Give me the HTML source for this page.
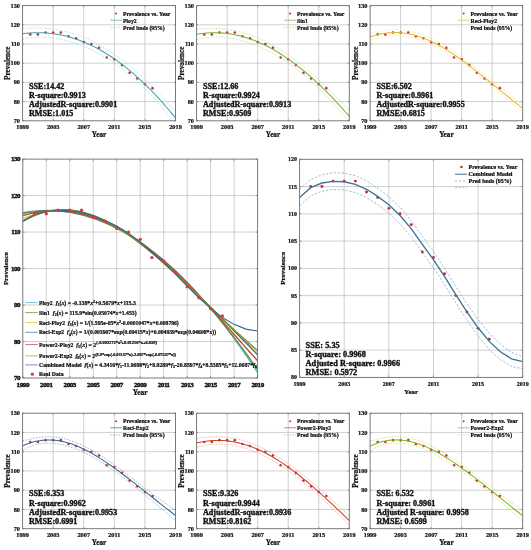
<!DOCTYPE html>
<html lang="en"><head><meta charset="utf-8"><title>Prevalence model fits</title>
<style>html,body{margin:0;padding:0;background:#fff}svg text{white-space:pre;stroke:#111;stroke-width:.24px}svg text.st{stroke-width:.36px}svg text.tk{stroke-width:.42px}</style></head>
<body>
<svg width="531" height="550" viewBox="0 0 531 550" style="display:block">
<rect width="531" height="550" fill="#fff"/>
<g fill="#111">
<line x1="53.18" y1="5.6" x2="53.18" y2="120.8" stroke="#bcbcbc" stroke-width="0.7"/>
<line x1="83.76" y1="5.6" x2="83.76" y2="120.8" stroke="#bcbcbc" stroke-width="0.7"/>
<line x1="114.34" y1="5.6" x2="114.34" y2="120.8" stroke="#bcbcbc" stroke-width="0.7"/>
<line x1="144.92" y1="5.6" x2="144.92" y2="120.8" stroke="#bcbcbc" stroke-width="0.7"/>
<line x1="22.6" y1="101.60" x2="175.5" y2="101.60" stroke="#bcbcbc" stroke-width="0.7"/>
<line x1="22.6" y1="82.40" x2="175.5" y2="82.40" stroke="#bcbcbc" stroke-width="0.7"/>
<line x1="22.6" y1="63.20" x2="175.5" y2="63.20" stroke="#bcbcbc" stroke-width="0.7"/>
<line x1="22.6" y1="44.00" x2="175.5" y2="44.00" stroke="#bcbcbc" stroke-width="0.7"/>
<line x1="22.6" y1="24.80" x2="175.5" y2="24.80" stroke="#bcbcbc" stroke-width="0.7"/>
<clipPath id="c0"><rect x="22.6" y="5.6" width="152.9" height="115.2"/></clipPath>
<g clip-path="url(#c0)">
<circle cx="30.25" cy="34.40" r="1.3" fill="#c62a38"/>
<circle cx="37.89" cy="34.40" r="1.3" fill="#c62a38"/>
<circle cx="45.53" cy="32.48" r="1.3" fill="#c62a38"/>
<circle cx="53.18" cy="32.48" r="1.3" fill="#c62a38"/>
<circle cx="60.83" cy="32.48" r="1.3" fill="#c62a38"/>
<circle cx="68.47" cy="36.32" r="1.3" fill="#c62a38"/>
<circle cx="76.12" cy="38.24" r="1.3" fill="#c62a38"/>
<circle cx="83.76" cy="42.08" r="1.3" fill="#c62a38"/>
<circle cx="91.41" cy="44.00" r="1.3" fill="#c62a38"/>
<circle cx="99.05" cy="47.84" r="1.3" fill="#c62a38"/>
<circle cx="106.70" cy="57.44" r="1.3" fill="#c62a38"/>
<circle cx="114.34" cy="59.36" r="1.3" fill="#c62a38"/>
<circle cx="121.99" cy="65.12" r="1.3" fill="#c62a38"/>
<circle cx="129.63" cy="72.80" r="1.3" fill="#c62a38"/>
<circle cx="137.28" cy="78.56" r="1.3" fill="#c62a38"/>
<circle cx="144.92" cy="84.32" r="1.3" fill="#c62a38"/>
<circle cx="152.56" cy="88.16" r="1.3" fill="#c62a38"/>
<path d="M22.60,28.37 L24.51,28.23 L26.42,28.12 L28.33,28.03 L30.25,27.97 L32.16,27.93 L34.07,27.92 L35.98,27.93 L37.89,27.97 L39.80,28.03 L41.71,28.12 L43.62,28.24 L45.53,28.38 L47.45,28.55 L49.36,28.75 L51.27,28.98 L53.18,29.24 L55.09,29.52 L57.00,29.84 L58.91,30.18 L60.83,30.56 L62.74,30.96 L64.65,31.40 L66.56,31.87 L68.47,32.38 L70.38,32.91 L72.29,33.48 L74.20,34.08 L76.12,34.71 L78.03,35.38 L79.94,36.08 L81.85,36.81 L83.76,37.58 L85.67,38.38 L87.58,39.21 L89.49,40.08 L91.41,40.98 L93.32,41.92 L95.23,42.89 L97.14,43.90 L99.05,44.94 L100.96,46.01 L102.87,47.12 L104.78,48.26 L106.70,49.43 L108.61,50.64 L110.52,51.88 L112.43,53.15 L114.34,54.46 L116.25,55.79 L118.16,57.16 L120.07,58.56 L121.99,60.00 L123.90,61.46 L125.81,62.96 L127.72,64.48 L129.63,66.04 L131.54,67.62 L133.45,69.23 L135.36,70.87 L137.28,72.54 L139.19,74.24 L141.10,75.96 L143.01,77.71 L144.92,79.49 L146.83,81.29 L148.74,83.12 L150.65,84.97 L152.56,86.85 L154.48,88.75 L156.39,90.68 L158.30,92.63 L160.21,94.61 L162.12,96.61 L164.03,98.63 L165.94,100.68 L167.85,102.75 L169.77,104.85 L171.68,106.97 L173.59,109.11 L175.50,111.28" stroke="#93d4da" stroke-width="0.7" stroke-dasharray="1.4 1.4" fill="none"/>
<path d="M22.60,39.19 L24.51,38.81 L26.42,38.48 L28.33,38.19 L30.25,37.94 L32.16,37.73 L34.07,37.56 L35.98,37.43 L37.89,37.35 L39.80,37.30 L41.71,37.30 L43.62,37.33 L45.53,37.40 L47.45,37.52 L49.36,37.67 L51.27,37.86 L53.18,38.08 L55.09,38.34 L57.00,38.64 L58.91,38.98 L60.83,39.35 L62.74,39.75 L64.65,40.20 L66.56,40.67 L68.47,41.18 L70.38,41.72 L72.29,42.30 L74.20,42.91 L76.12,43.56 L78.03,44.23 L79.94,44.94 L81.85,45.68 L83.76,46.46 L85.67,47.27 L87.58,48.11 L89.49,48.98 L91.41,49.88 L93.32,50.82 L95.23,51.79 L97.14,52.79 L99.05,53.82 L100.96,54.88 L102.87,55.98 L104.78,57.11 L106.70,58.28 L108.61,59.47 L110.52,60.70 L112.43,61.96 L114.34,63.26 L116.25,64.59 L118.16,65.96 L120.07,67.35 L121.99,68.79 L123.90,70.26 L125.81,71.76 L127.72,73.30 L129.63,74.88 L131.54,76.50 L133.45,78.15 L135.36,79.84 L137.28,81.56 L139.19,83.33 L141.10,85.14 L143.01,86.98 L144.92,88.87 L146.83,90.79 L148.74,92.76 L150.65,94.77 L152.56,96.82 L154.48,98.91 L156.39,101.04 L158.30,103.21 L160.21,105.43 L162.12,107.69 L164.03,109.99 L165.94,112.33 L167.85,114.72 L169.77,117.14 L171.68,119.61 L173.59,122.12 L175.50,124.68" stroke="#93d4da" stroke-width="0.7" stroke-dasharray="1.4 1.4" fill="none"/>
<path d="M22.60,33.78 L24.51,33.52 L26.42,33.30 L28.33,33.11 L30.25,32.95 L32.16,32.83 L34.07,32.74 L35.98,32.68 L37.89,32.66 L39.80,32.67 L41.71,32.71 L43.62,32.78 L45.53,32.89 L47.45,33.03 L49.36,33.21 L51.27,33.42 L53.18,33.66 L55.09,33.93 L57.00,34.24 L58.91,34.58 L60.83,34.95 L62.74,35.36 L64.65,35.80 L66.56,36.27 L68.47,36.78 L70.38,37.32 L72.29,37.89 L74.20,38.49 L76.12,39.13 L78.03,39.80 L79.94,40.51 L81.85,41.25 L83.76,42.02 L85.67,42.82 L87.58,43.66 L89.49,44.53 L91.41,45.43 L93.32,46.37 L95.23,47.34 L97.14,48.34 L99.05,49.38 L100.96,50.45 L102.87,51.55 L104.78,52.68 L106.70,53.85 L108.61,55.05 L110.52,56.29 L112.43,57.56 L114.34,58.86 L116.25,60.19 L118.16,61.56 L120.07,62.96 L121.99,64.39 L123.90,65.86 L125.81,67.36 L127.72,68.89 L129.63,70.46 L131.54,72.06 L133.45,73.69 L135.36,75.35 L137.28,77.05 L139.19,78.78 L141.10,80.55 L143.01,82.35 L144.92,84.18 L146.83,86.04 L148.74,87.94 L150.65,89.87 L152.56,91.83 L154.48,93.83 L156.39,95.86 L158.30,97.92 L160.21,100.02 L162.12,102.15 L164.03,104.31 L165.94,106.51 L167.85,108.73 L169.77,111.00 L171.68,113.29 L173.59,115.62 L175.50,117.98" stroke="#43a2b0" stroke-width="1.05" fill="none"/>
</g>
<rect x="22.6" y="5.6" width="152.90" height="115.20" fill="none" stroke="#6c6c6c" stroke-width="0.9"/>
<path d="M22.60,120.8v-1.6M22.60,5.6v1.6M53.18,120.8v-1.6M53.18,5.6v1.6M83.76,120.8v-1.6M83.76,5.6v1.6M114.34,120.8v-1.6M114.34,5.6v1.6M144.92,120.8v-1.6M144.92,5.6v1.6M175.50,120.8v-1.6M175.50,5.6v1.6M22.6,120.80h1.6M175.5,120.80h-1.6M22.6,101.60h1.6M175.5,101.60h-1.6M22.6,82.40h1.6M175.5,82.40h-1.6M22.6,63.20h1.6M175.5,63.20h-1.6M22.6,44.00h1.6M175.5,44.00h-1.6M22.6,24.80h1.6M175.5,24.80h-1.6M22.6,5.60h1.6M175.5,5.60h-1.6" stroke="#6c6c6c" stroke-width="0.6" fill="none"/>
<text transform="translate(22.60,129.10) scale(1,1.0)" font-size="6.3" letter-spacing="0" class="t" text-anchor="middle" font-family="Liberation Serif, Times New Roman, serif" font-weight="bold">1999</text>
<text transform="translate(53.18,129.10) scale(1,1.0)" font-size="6.3" letter-spacing="0" class="t" text-anchor="middle" font-family="Liberation Serif, Times New Roman, serif" font-weight="bold">2003</text>
<text transform="translate(83.76,129.10) scale(1,1.0)" font-size="6.3" letter-spacing="0" class="t" text-anchor="middle" font-family="Liberation Serif, Times New Roman, serif" font-weight="bold">2007</text>
<text transform="translate(114.34,129.10) scale(1,1.0)" font-size="6.3" letter-spacing="0" class="t" text-anchor="middle" font-family="Liberation Serif, Times New Roman, serif" font-weight="bold">2011</text>
<text transform="translate(144.92,129.10) scale(1,1.0)" font-size="6.3" letter-spacing="0" class="t" text-anchor="middle" font-family="Liberation Serif, Times New Roman, serif" font-weight="bold">2015</text>
<text transform="translate(175.50,129.10) scale(1,1.0)" font-size="6.3" letter-spacing="0" class="t" text-anchor="middle" font-family="Liberation Serif, Times New Roman, serif" font-weight="bold">2019</text>
<text transform="translate(20.00,122.88) scale(1,1.0)" font-size="6.3" letter-spacing="0" class="t" text-anchor="end" font-family="Liberation Serif, Times New Roman, serif" font-weight="bold">70</text>
<text transform="translate(20.00,103.68) scale(1,1.0)" font-size="6.3" letter-spacing="0" class="t" text-anchor="end" font-family="Liberation Serif, Times New Roman, serif" font-weight="bold">80</text>
<text transform="translate(20.00,84.48) scale(1,1.0)" font-size="6.3" letter-spacing="0" class="t" text-anchor="end" font-family="Liberation Serif, Times New Roman, serif" font-weight="bold">90</text>
<text transform="translate(20.00,65.28) scale(1,1.0)" font-size="6.3" letter-spacing="0" class="t" text-anchor="end" font-family="Liberation Serif, Times New Roman, serif" font-weight="bold">100</text>
<text transform="translate(20.00,46.08) scale(1,1.0)" font-size="6.3" letter-spacing="0" class="t" text-anchor="end" font-family="Liberation Serif, Times New Roman, serif" font-weight="bold">110</text>
<text transform="translate(20.00,26.88) scale(1,1.0)" font-size="6.3" letter-spacing="0" class="t" text-anchor="end" font-family="Liberation Serif, Times New Roman, serif" font-weight="bold">120</text>
<text transform="translate(20.00,7.68) scale(1,1.0)" font-size="6.3" letter-spacing="0" class="t" text-anchor="end" font-family="Liberation Serif, Times New Roman, serif" font-weight="bold">130</text>
<text x="99.05" y="137.4" font-size="7.2" text-anchor="middle" font-family="Liberation Serif, Times New Roman, serif" font-weight="bold">Year</text>
<text transform="translate(10.000000000000002,63.20) rotate(-90)" font-size="7.2" text-anchor="middle" font-family="Liberation Serif, Times New Roman, serif" font-weight="bold">Prevalence</text>
<circle cx="116.10" cy="13.6" r="1.0" fill="#c62a38"/>
<line x1="110.19999999999999" y1="20.2" x2="121.99999999999999" y2="20.2" stroke="#43a2b0" stroke-width="0.7"/>
<line x1="110.19999999999999" y1="27.4" x2="121.99999999999999" y2="27.4" stroke="#93d4da" stroke-width="0.7" stroke-dasharray="1.4 1.4"/>
<text x="123.00" y="15.50" font-size="5.75" font-family="Liberation Serif, Times New Roman, serif" font-weight="bold">Prevalence vs. Year</text>
<text x="123.00" y="22.50" font-size="5.75" font-family="Liberation Serif, Times New Roman, serif" font-weight="bold">Ploy2</text>
<text x="123.00" y="29.50" font-size="5.75" font-family="Liberation Serif, Times New Roman, serif" font-weight="bold">Pred bnds (95%)</text>
<text x="29.00" y="88.50" font-size="8.1" class="st" font-family="Liberation Serif, Times New Roman, serif" font-weight="bold">SSE:14.42</text>
<text x="29.00" y="97.80" font-size="8.1" class="st" font-family="Liberation Serif, Times New Roman, serif" font-weight="bold">R-square:0.9913</text>
<text x="29.00" y="107.10" font-size="8.1" class="st" font-family="Liberation Serif, Times New Roman, serif" font-weight="bold">AdjustedR-square:0.9901</text>
<text x="29.00" y="116.40" font-size="8.1" class="st" font-family="Liberation Serif, Times New Roman, serif" font-weight="bold">RMSE:1.015</text>
<line x1="227.14" y1="5.6" x2="227.14" y2="120.8" stroke="#bcbcbc" stroke-width="0.7"/>
<line x1="257.68" y1="5.6" x2="257.68" y2="120.8" stroke="#bcbcbc" stroke-width="0.7"/>
<line x1="288.22" y1="5.6" x2="288.22" y2="120.8" stroke="#bcbcbc" stroke-width="0.7"/>
<line x1="318.76" y1="5.6" x2="318.76" y2="120.8" stroke="#bcbcbc" stroke-width="0.7"/>
<line x1="196.6" y1="101.60" x2="349.3" y2="101.60" stroke="#bcbcbc" stroke-width="0.7"/>
<line x1="196.6" y1="82.40" x2="349.3" y2="82.40" stroke="#bcbcbc" stroke-width="0.7"/>
<line x1="196.6" y1="63.20" x2="349.3" y2="63.20" stroke="#bcbcbc" stroke-width="0.7"/>
<line x1="196.6" y1="44.00" x2="349.3" y2="44.00" stroke="#bcbcbc" stroke-width="0.7"/>
<line x1="196.6" y1="24.80" x2="349.3" y2="24.80" stroke="#bcbcbc" stroke-width="0.7"/>
<clipPath id="c1"><rect x="196.6" y="5.6" width="152.70000000000002" height="115.2"/></clipPath>
<g clip-path="url(#c1)">
<circle cx="204.23" cy="34.40" r="1.3" fill="#c62a38"/>
<circle cx="211.87" cy="34.40" r="1.3" fill="#c62a38"/>
<circle cx="219.50" cy="32.48" r="1.3" fill="#c62a38"/>
<circle cx="227.14" cy="32.48" r="1.3" fill="#c62a38"/>
<circle cx="234.78" cy="32.48" r="1.3" fill="#c62a38"/>
<circle cx="242.41" cy="36.32" r="1.3" fill="#c62a38"/>
<circle cx="250.04" cy="38.24" r="1.3" fill="#c62a38"/>
<circle cx="257.68" cy="42.08" r="1.3" fill="#c62a38"/>
<circle cx="265.31" cy="44.00" r="1.3" fill="#c62a38"/>
<circle cx="272.95" cy="47.84" r="1.3" fill="#c62a38"/>
<circle cx="280.59" cy="57.44" r="1.3" fill="#c62a38"/>
<circle cx="288.22" cy="59.36" r="1.3" fill="#c62a38"/>
<circle cx="295.86" cy="65.12" r="1.3" fill="#c62a38"/>
<circle cx="303.49" cy="72.80" r="1.3" fill="#c62a38"/>
<circle cx="311.12" cy="78.56" r="1.3" fill="#c62a38"/>
<circle cx="318.76" cy="84.32" r="1.3" fill="#c62a38"/>
<circle cx="326.39" cy="88.16" r="1.3" fill="#c62a38"/>
<path d="M196.60,29.19 L198.51,28.99 L200.42,28.82 L202.33,28.67 L204.23,28.55 L206.14,28.46 L208.05,28.40 L209.96,28.37 L211.87,28.36 L213.78,28.39 L215.69,28.44 L217.60,28.52 L219.50,28.63 L221.41,28.78 L223.32,28.95 L225.23,29.15 L227.14,29.39 L229.05,29.66 L230.96,29.96 L232.87,30.29 L234.78,30.66 L236.68,31.06 L238.59,31.49 L240.50,31.96 L242.41,32.46 L244.32,32.99 L246.23,33.57 L248.14,34.17 L250.04,34.81 L251.95,35.49 L253.86,36.20 L255.77,36.94 L257.68,37.73 L259.59,38.54 L261.50,39.39 L263.41,40.28 L265.31,41.20 L267.22,42.16 L269.13,43.15 L271.04,44.17 L272.95,45.23 L274.86,46.32 L276.77,47.45 L278.68,48.61 L280.59,49.80 L282.49,51.02 L284.40,52.28 L286.31,53.56 L288.22,54.88 L290.13,56.23 L292.04,57.61 L293.95,59.02 L295.86,60.46 L297.76,61.93 L299.67,63.42 L301.58,64.94 L303.49,66.49 L305.40,68.07 L307.31,69.67 L309.22,71.30 L311.12,72.95 L313.03,74.62 L314.94,76.32 L316.85,78.04 L318.76,79.78 L320.67,81.55 L322.58,83.33 L324.49,85.14 L326.39,86.97 L328.30,88.81 L330.21,90.68 L332.12,92.56 L334.03,94.47 L335.94,96.39 L337.85,98.33 L339.76,100.29 L341.66,102.27 L343.57,104.27 L345.48,106.28 L347.39,108.31 L349.30,110.36" stroke="#b5d37f" stroke-width="0.7" stroke-dasharray="1.4 1.4" fill="none"/>
<path d="M196.60,39.36 L198.51,38.93 L200.42,38.55 L202.33,38.21 L204.23,37.91 L206.14,37.66 L208.05,37.45 L209.96,37.28 L211.87,37.16 L213.78,37.08 L215.69,37.04 L217.60,37.04 L219.50,37.09 L221.41,37.18 L223.32,37.30 L225.23,37.47 L227.14,37.68 L229.05,37.93 L230.96,38.21 L232.87,38.54 L234.78,38.90 L236.68,39.30 L238.59,39.74 L240.50,40.21 L242.41,40.72 L244.32,41.27 L246.23,41.85 L248.14,42.46 L250.04,43.11 L251.95,43.80 L253.86,44.52 L255.77,45.27 L257.68,46.06 L259.59,46.88 L261.50,47.73 L263.41,48.62 L265.31,49.54 L267.22,50.50 L269.13,51.48 L271.04,52.50 L272.95,53.55 L274.86,54.64 L276.77,55.75 L278.68,56.90 L280.59,58.08 L282.49,59.29 L284.40,60.54 L286.31,61.82 L288.22,63.13 L290.13,64.47 L292.04,65.85 L293.95,67.26 L295.86,68.70 L297.76,70.17 L299.67,71.68 L301.58,73.21 L303.49,74.79 L305.40,76.39 L307.31,78.03 L309.22,79.70 L311.12,81.41 L313.03,83.15 L314.94,84.92 L316.85,86.73 L318.76,88.56 L320.67,90.44 L322.58,92.34 L324.49,94.28 L326.39,96.25 L328.30,98.26 L330.21,100.29 L332.12,102.36 L334.03,104.46 L335.94,106.59 L337.85,108.76 L339.76,110.95 L341.66,113.17 L343.57,115.43 L345.48,117.71 L347.39,120.02 L349.30,122.36" stroke="#b5d37f" stroke-width="0.7" stroke-dasharray="1.4 1.4" fill="none"/>
<path d="M196.60,34.28 L198.51,33.96 L200.42,33.68 L202.33,33.44 L204.23,33.23 L206.14,33.06 L208.05,32.92 L209.96,32.82 L211.87,32.76 L213.78,32.73 L215.69,32.74 L217.60,32.78 L219.50,32.86 L221.41,32.98 L223.32,33.13 L225.23,33.31 L227.14,33.53 L229.05,33.79 L230.96,34.09 L232.87,34.41 L234.78,34.78 L236.68,35.18 L238.59,35.61 L240.50,36.08 L242.41,36.59 L244.32,37.13 L246.23,37.71 L248.14,38.32 L250.04,38.96 L251.95,39.64 L253.86,40.36 L255.77,41.11 L257.68,41.89 L259.59,42.71 L261.50,43.56 L263.41,44.45 L265.31,45.37 L267.22,46.33 L269.13,47.31 L271.04,48.34 L272.95,49.39 L274.86,50.48 L276.77,51.60 L278.68,52.75 L280.59,53.94 L282.49,55.16 L284.40,56.41 L286.31,57.69 L288.22,59.01 L290.13,60.35 L292.04,61.73 L293.95,63.14 L295.86,64.58 L297.76,66.05 L299.67,67.55 L301.58,69.08 L303.49,70.64 L305.40,72.23 L307.31,73.85 L309.22,75.50 L311.12,77.18 L313.03,78.88 L314.94,80.62 L316.85,82.38 L318.76,84.17 L320.67,85.99 L322.58,87.84 L324.49,89.71 L326.39,91.61 L328.30,93.53 L330.21,95.49 L332.12,97.46 L334.03,99.47 L335.94,101.49 L337.85,103.55 L339.76,105.62 L341.66,107.72 L343.57,109.85 L345.48,112.00 L347.39,114.17 L349.30,116.36" stroke="#7fae3c" stroke-width="1.05" fill="none"/>
</g>
<rect x="196.6" y="5.6" width="152.70" height="115.20" fill="none" stroke="#6c6c6c" stroke-width="0.9"/>
<path d="M196.60,120.8v-1.6M196.60,5.6v1.6M227.14,120.8v-1.6M227.14,5.6v1.6M257.68,120.8v-1.6M257.68,5.6v1.6M288.22,120.8v-1.6M288.22,5.6v1.6M318.76,120.8v-1.6M318.76,5.6v1.6M349.30,120.8v-1.6M349.30,5.6v1.6M196.6,120.80h1.6M349.3,120.80h-1.6M196.6,101.60h1.6M349.3,101.60h-1.6M196.6,82.40h1.6M349.3,82.40h-1.6M196.6,63.20h1.6M349.3,63.20h-1.6M196.6,44.00h1.6M349.3,44.00h-1.6M196.6,24.80h1.6M349.3,24.80h-1.6M196.6,5.60h1.6M349.3,5.60h-1.6" stroke="#6c6c6c" stroke-width="0.6" fill="none"/>
<text transform="translate(196.60,129.10) scale(1,1.0)" font-size="6.3" letter-spacing="0" class="t" text-anchor="middle" font-family="Liberation Serif, Times New Roman, serif" font-weight="bold">1999</text>
<text transform="translate(227.14,129.10) scale(1,1.0)" font-size="6.3" letter-spacing="0" class="t" text-anchor="middle" font-family="Liberation Serif, Times New Roman, serif" font-weight="bold">2003</text>
<text transform="translate(257.68,129.10) scale(1,1.0)" font-size="6.3" letter-spacing="0" class="t" text-anchor="middle" font-family="Liberation Serif, Times New Roman, serif" font-weight="bold">2007</text>
<text transform="translate(288.22,129.10) scale(1,1.0)" font-size="6.3" letter-spacing="0" class="t" text-anchor="middle" font-family="Liberation Serif, Times New Roman, serif" font-weight="bold">2011</text>
<text transform="translate(318.76,129.10) scale(1,1.0)" font-size="6.3" letter-spacing="0" class="t" text-anchor="middle" font-family="Liberation Serif, Times New Roman, serif" font-weight="bold">2015</text>
<text transform="translate(349.30,129.10) scale(1,1.0)" font-size="6.3" letter-spacing="0" class="t" text-anchor="middle" font-family="Liberation Serif, Times New Roman, serif" font-weight="bold">2019</text>
<text transform="translate(194.00,122.88) scale(1,1.0)" font-size="6.3" letter-spacing="0" class="t" text-anchor="end" font-family="Liberation Serif, Times New Roman, serif" font-weight="bold">70</text>
<text transform="translate(194.00,103.68) scale(1,1.0)" font-size="6.3" letter-spacing="0" class="t" text-anchor="end" font-family="Liberation Serif, Times New Roman, serif" font-weight="bold">80</text>
<text transform="translate(194.00,84.48) scale(1,1.0)" font-size="6.3" letter-spacing="0" class="t" text-anchor="end" font-family="Liberation Serif, Times New Roman, serif" font-weight="bold">90</text>
<text transform="translate(194.00,65.28) scale(1,1.0)" font-size="6.3" letter-spacing="0" class="t" text-anchor="end" font-family="Liberation Serif, Times New Roman, serif" font-weight="bold">100</text>
<text transform="translate(194.00,46.08) scale(1,1.0)" font-size="6.3" letter-spacing="0" class="t" text-anchor="end" font-family="Liberation Serif, Times New Roman, serif" font-weight="bold">110</text>
<text transform="translate(194.00,26.88) scale(1,1.0)" font-size="6.3" letter-spacing="0" class="t" text-anchor="end" font-family="Liberation Serif, Times New Roman, serif" font-weight="bold">120</text>
<text transform="translate(194.00,7.68) scale(1,1.0)" font-size="6.3" letter-spacing="0" class="t" text-anchor="end" font-family="Liberation Serif, Times New Roman, serif" font-weight="bold">130</text>
<text x="272.95" y="137.4" font-size="7.2" text-anchor="middle" font-family="Liberation Serif, Times New Roman, serif" font-weight="bold">Year</text>
<text transform="translate(184.0,63.20) rotate(-90)" font-size="7.2" text-anchor="middle" font-family="Liberation Serif, Times New Roman, serif" font-weight="bold">Prevalence</text>
<circle cx="290.10" cy="13.6" r="1.0" fill="#c62a38"/>
<line x1="284.2" y1="20.2" x2="296.0" y2="20.2" stroke="#7fae3c" stroke-width="0.7"/>
<line x1="284.2" y1="27.4" x2="296.0" y2="27.4" stroke="#b5d37f" stroke-width="0.7" stroke-dasharray="1.4 1.4"/>
<text x="297.00" y="15.50" font-size="5.75" font-family="Liberation Serif, Times New Roman, serif" font-weight="bold">Prevalence vs. Year</text>
<text x="297.00" y="22.50" font-size="5.75" font-family="Liberation Serif, Times New Roman, serif" font-weight="bold">Sin1</text>
<text x="297.00" y="29.50" font-size="5.75" font-family="Liberation Serif, Times New Roman, serif" font-weight="bold">Pred bnds (95%)</text>
<text x="203.00" y="88.50" font-size="8.1" class="st" font-family="Liberation Serif, Times New Roman, serif" font-weight="bold">SSE:12.66</text>
<text x="203.00" y="97.80" font-size="8.1" class="st" font-family="Liberation Serif, Times New Roman, serif" font-weight="bold">R-square:0.9924</text>
<text x="203.00" y="107.10" font-size="8.1" class="st" font-family="Liberation Serif, Times New Roman, serif" font-weight="bold">AdjustedR-square:0.9913</text>
<text x="203.00" y="116.40" font-size="8.1" class="st" font-family="Liberation Serif, Times New Roman, serif" font-weight="bold">RMSE:0.9509</text>
<line x1="400.62" y1="5.6" x2="400.62" y2="120.8" stroke="#bcbcbc" stroke-width="0.7"/>
<line x1="431.14" y1="5.6" x2="431.14" y2="120.8" stroke="#bcbcbc" stroke-width="0.7"/>
<line x1="461.66" y1="5.6" x2="461.66" y2="120.8" stroke="#bcbcbc" stroke-width="0.7"/>
<line x1="492.18" y1="5.6" x2="492.18" y2="120.8" stroke="#bcbcbc" stroke-width="0.7"/>
<line x1="370.1" y1="101.60" x2="522.7" y2="101.60" stroke="#bcbcbc" stroke-width="0.7"/>
<line x1="370.1" y1="82.40" x2="522.7" y2="82.40" stroke="#bcbcbc" stroke-width="0.7"/>
<line x1="370.1" y1="63.20" x2="522.7" y2="63.20" stroke="#bcbcbc" stroke-width="0.7"/>
<line x1="370.1" y1="44.00" x2="522.7" y2="44.00" stroke="#bcbcbc" stroke-width="0.7"/>
<line x1="370.1" y1="24.80" x2="522.7" y2="24.80" stroke="#bcbcbc" stroke-width="0.7"/>
<clipPath id="c2"><rect x="370.1" y="5.6" width="152.60000000000002" height="115.2"/></clipPath>
<g clip-path="url(#c2)">
<circle cx="377.73" cy="34.40" r="1.3" fill="#c62a38"/>
<circle cx="385.36" cy="34.40" r="1.3" fill="#c62a38"/>
<circle cx="392.99" cy="32.48" r="1.3" fill="#c62a38"/>
<circle cx="400.62" cy="32.48" r="1.3" fill="#c62a38"/>
<circle cx="408.25" cy="32.48" r="1.3" fill="#c62a38"/>
<circle cx="415.88" cy="36.32" r="1.3" fill="#c62a38"/>
<circle cx="423.51" cy="38.24" r="1.3" fill="#c62a38"/>
<circle cx="431.14" cy="42.08" r="1.3" fill="#c62a38"/>
<circle cx="438.77" cy="44.00" r="1.3" fill="#c62a38"/>
<circle cx="446.40" cy="47.84" r="1.3" fill="#c62a38"/>
<circle cx="454.03" cy="57.44" r="1.3" fill="#c62a38"/>
<circle cx="461.66" cy="59.36" r="1.3" fill="#c62a38"/>
<circle cx="469.29" cy="65.12" r="1.3" fill="#c62a38"/>
<circle cx="476.92" cy="72.80" r="1.3" fill="#c62a38"/>
<circle cx="484.55" cy="78.56" r="1.3" fill="#c62a38"/>
<circle cx="492.18" cy="84.32" r="1.3" fill="#c62a38"/>
<circle cx="499.81" cy="88.16" r="1.3" fill="#c62a38"/>
<path d="M370.10,33.25 L372.01,32.70 L373.92,32.20 L375.82,31.74 L377.73,31.32 L379.64,30.95 L381.55,30.62 L383.45,30.33 L385.36,30.09 L387.27,29.89 L389.18,29.74 L391.08,29.63 L392.99,29.57 L394.90,29.56 L396.81,29.59 L398.71,29.67 L400.62,29.80 L402.53,29.98 L404.44,30.21 L406.34,30.48 L408.25,30.81 L410.16,31.18 L412.07,31.60 L413.97,32.07 L415.88,32.58 L417.79,33.15 L419.70,33.76 L421.60,34.42 L423.51,35.12 L425.42,35.87 L427.33,36.66 L429.23,37.49 L431.14,38.37 L433.05,39.28 L434.96,40.24 L436.86,41.23 L438.77,42.27 L440.68,43.33 L442.59,44.44 L444.49,45.57 L446.40,46.74 L448.31,47.94 L450.22,49.16 L452.12,50.42 L454.03,51.70 L455.94,53.00 L457.85,54.33 L459.75,55.68 L461.66,57.05 L463.57,58.44 L465.48,59.85 L467.38,61.27 L469.29,62.71 L471.20,64.16 L473.11,65.62 L475.01,67.10 L476.92,68.58 L478.83,70.08 L480.74,71.58 L482.64,73.09 L484.55,74.60 L486.46,76.12 L488.37,77.64 L490.27,79.17 L492.18,80.69 L494.09,82.22 L496.00,83.75 L497.90,85.28 L499.81,86.80 L501.72,88.33 L503.63,89.85 L505.53,91.37 L507.44,92.88 L509.35,94.39 L511.26,95.90 L513.16,97.40 L515.07,98.89 L516.98,100.38 L518.88,101.86 L520.79,103.34 L522.70,104.80" stroke="#f0dc80" stroke-width="0.7" stroke-dasharray="1.4 1.4" fill="none"/>
<path d="M370.10,40.60 L372.01,39.88 L373.92,39.23 L375.82,38.62 L377.73,38.07 L379.64,37.57 L381.55,37.13 L383.45,36.74 L385.36,36.41 L387.27,36.13 L389.18,35.91 L391.08,35.75 L392.99,35.64 L394.90,35.59 L396.81,35.59 L398.71,35.65 L400.62,35.76 L402.53,35.93 L404.44,36.15 L406.34,36.43 L408.25,36.75 L410.16,37.13 L412.07,37.55 L413.97,38.03 L415.88,38.55 L417.79,39.12 L419.70,39.74 L421.60,40.41 L423.51,41.11 L425.42,41.87 L427.33,42.66 L429.23,43.49 L431.14,44.37 L433.05,45.28 L434.96,46.24 L436.86,47.23 L438.77,48.25 L440.68,49.31 L442.59,50.41 L444.49,51.53 L446.40,52.69 L448.31,53.88 L450.22,55.09 L452.12,56.34 L454.03,57.61 L455.94,58.91 L457.85,60.23 L459.75,61.58 L461.66,62.94 L463.57,64.33 L465.48,65.74 L467.38,67.17 L469.29,68.62 L471.20,70.08 L473.11,71.56 L475.01,73.05 L476.92,74.55 L478.83,76.07 L480.74,77.60 L482.64,79.14 L484.55,80.69 L486.46,82.24 L488.37,83.80 L490.27,85.37 L492.18,86.94 L494.09,88.52 L496.00,90.10 L497.90,91.68 L499.81,93.26 L501.72,94.85 L503.63,96.43 L505.53,98.01 L507.44,99.58 L509.35,101.16 L511.26,102.73 L513.16,104.30 L515.07,105.86 L516.98,107.41 L518.88,108.96 L520.79,110.50 L522.70,112.03" stroke="#f0dc80" stroke-width="0.7" stroke-dasharray="1.4 1.4" fill="none"/>
<path d="M370.10,36.92 L372.01,36.29 L373.92,35.71 L375.82,35.18 L377.73,34.70 L379.64,34.26 L381.55,33.87 L383.45,33.53 L385.36,33.25 L387.27,33.01 L389.18,32.82 L391.08,32.69 L392.99,32.60 L394.90,32.57 L396.81,32.59 L398.71,32.66 L400.62,32.78 L402.53,32.96 L404.44,33.18 L406.34,33.45 L408.25,33.78 L410.16,34.15 L412.07,34.58 L413.97,35.05 L415.88,35.57 L417.79,36.14 L419.70,36.75 L421.60,37.41 L423.51,38.12 L425.42,38.87 L427.33,39.66 L429.23,40.49 L431.14,41.37 L433.05,42.28 L434.96,43.24 L436.86,44.23 L438.77,45.26 L440.68,46.32 L442.59,47.42 L444.49,48.55 L446.40,49.71 L448.31,50.91 L450.22,52.13 L452.12,53.38 L454.03,54.65 L455.94,55.96 L457.85,57.28 L459.75,58.63 L461.66,60.00 L463.57,61.39 L465.48,62.79 L467.38,64.22 L469.29,65.66 L471.20,67.12 L473.11,68.59 L475.01,70.07 L476.92,71.57 L478.83,73.07 L480.74,74.59 L482.64,76.11 L484.55,77.64 L486.46,79.18 L488.37,80.72 L490.27,82.27 L492.18,83.82 L494.09,85.37 L496.00,86.92 L497.90,88.48 L499.81,90.03 L501.72,91.59 L503.63,93.14 L505.53,94.69 L507.44,96.23 L509.35,97.78 L511.26,99.31 L513.16,100.85 L515.07,102.37 L516.98,103.90 L518.88,105.41 L520.79,106.92 L522.70,108.42" stroke="#e6b830" stroke-width="1.05" fill="none"/>
</g>
<rect x="370.1" y="5.6" width="152.60" height="115.20" fill="none" stroke="#6c6c6c" stroke-width="0.9"/>
<path d="M370.10,120.8v-1.6M370.10,5.6v1.6M400.62,120.8v-1.6M400.62,5.6v1.6M431.14,120.8v-1.6M431.14,5.6v1.6M461.66,120.8v-1.6M461.66,5.6v1.6M492.18,120.8v-1.6M492.18,5.6v1.6M522.70,120.8v-1.6M522.70,5.6v1.6M370.1,120.80h1.6M522.7,120.80h-1.6M370.1,101.60h1.6M522.7,101.60h-1.6M370.1,82.40h1.6M522.7,82.40h-1.6M370.1,63.20h1.6M522.7,63.20h-1.6M370.1,44.00h1.6M522.7,44.00h-1.6M370.1,24.80h1.6M522.7,24.80h-1.6M370.1,5.60h1.6M522.7,5.60h-1.6" stroke="#6c6c6c" stroke-width="0.6" fill="none"/>
<text transform="translate(370.10,129.10) scale(1,1.0)" font-size="6.3" letter-spacing="0" class="t" text-anchor="middle" font-family="Liberation Serif, Times New Roman, serif" font-weight="bold">1999</text>
<text transform="translate(400.62,129.10) scale(1,1.0)" font-size="6.3" letter-spacing="0" class="t" text-anchor="middle" font-family="Liberation Serif, Times New Roman, serif" font-weight="bold">2003</text>
<text transform="translate(431.14,129.10) scale(1,1.0)" font-size="6.3" letter-spacing="0" class="t" text-anchor="middle" font-family="Liberation Serif, Times New Roman, serif" font-weight="bold">2007</text>
<text transform="translate(461.66,129.10) scale(1,1.0)" font-size="6.3" letter-spacing="0" class="t" text-anchor="middle" font-family="Liberation Serif, Times New Roman, serif" font-weight="bold">2011</text>
<text transform="translate(492.18,129.10) scale(1,1.0)" font-size="6.3" letter-spacing="0" class="t" text-anchor="middle" font-family="Liberation Serif, Times New Roman, serif" font-weight="bold">2015</text>
<text transform="translate(522.70,129.10) scale(1,1.0)" font-size="6.3" letter-spacing="0" class="t" text-anchor="middle" font-family="Liberation Serif, Times New Roman, serif" font-weight="bold">2019</text>
<text transform="translate(367.50,122.88) scale(1,1.0)" font-size="6.3" letter-spacing="0" class="t" text-anchor="end" font-family="Liberation Serif, Times New Roman, serif" font-weight="bold">70</text>
<text transform="translate(367.50,103.68) scale(1,1.0)" font-size="6.3" letter-spacing="0" class="t" text-anchor="end" font-family="Liberation Serif, Times New Roman, serif" font-weight="bold">80</text>
<text transform="translate(367.50,84.48) scale(1,1.0)" font-size="6.3" letter-spacing="0" class="t" text-anchor="end" font-family="Liberation Serif, Times New Roman, serif" font-weight="bold">90</text>
<text transform="translate(367.50,65.28) scale(1,1.0)" font-size="6.3" letter-spacing="0" class="t" text-anchor="end" font-family="Liberation Serif, Times New Roman, serif" font-weight="bold">100</text>
<text transform="translate(367.50,46.08) scale(1,1.0)" font-size="6.3" letter-spacing="0" class="t" text-anchor="end" font-family="Liberation Serif, Times New Roman, serif" font-weight="bold">110</text>
<text transform="translate(367.50,26.88) scale(1,1.0)" font-size="6.3" letter-spacing="0" class="t" text-anchor="end" font-family="Liberation Serif, Times New Roman, serif" font-weight="bold">120</text>
<text transform="translate(367.50,7.68) scale(1,1.0)" font-size="6.3" letter-spacing="0" class="t" text-anchor="end" font-family="Liberation Serif, Times New Roman, serif" font-weight="bold">130</text>
<text x="446.40" y="137.4" font-size="7.2" text-anchor="middle" font-family="Liberation Serif, Times New Roman, serif" font-weight="bold">Year</text>
<text transform="translate(357.5,63.20) rotate(-90)" font-size="7.2" text-anchor="middle" font-family="Liberation Serif, Times New Roman, serif" font-weight="bold">Prevalence</text>
<circle cx="463.60" cy="13.6" r="1.0" fill="#c62a38"/>
<line x1="457.70000000000005" y1="20.2" x2="469.50000000000006" y2="20.2" stroke="#e6b830" stroke-width="0.7"/>
<line x1="457.70000000000005" y1="27.4" x2="469.50000000000006" y2="27.4" stroke="#f0dc80" stroke-width="0.7" stroke-dasharray="1.4 1.4"/>
<text x="470.50" y="15.50" font-size="5.75" font-family="Liberation Serif, Times New Roman, serif" font-weight="bold">Prevalence vs. Year</text>
<text x="470.50" y="22.50" font-size="5.75" font-family="Liberation Serif, Times New Roman, serif" font-weight="bold">Reci-Ploy2</text>
<text x="470.50" y="29.50" font-size="5.75" font-family="Liberation Serif, Times New Roman, serif" font-weight="bold">Pred bnds (95%)</text>
<text x="376.50" y="88.50" font-size="8.1" class="st" font-family="Liberation Serif, Times New Roman, serif" font-weight="bold">SSE:6.502</text>
<text x="376.50" y="97.80" font-size="8.1" class="st" font-family="Liberation Serif, Times New Roman, serif" font-weight="bold">R-square:0.9961</text>
<text x="376.50" y="107.10" font-size="8.1" class="st" font-family="Liberation Serif, Times New Roman, serif" font-weight="bold">AdjustedR-square:0.9955</text>
<text x="376.50" y="116.40" font-size="8.1" class="st" font-family="Liberation Serif, Times New Roman, serif" font-weight="bold">RMSE:0.6815</text>
<line x1="53.18" y1="413.2" x2="53.18" y2="528.7" stroke="#bcbcbc" stroke-width="0.7"/>
<line x1="83.76" y1="413.2" x2="83.76" y2="528.7" stroke="#bcbcbc" stroke-width="0.7"/>
<line x1="114.34" y1="413.2" x2="114.34" y2="528.7" stroke="#bcbcbc" stroke-width="0.7"/>
<line x1="144.92" y1="413.2" x2="144.92" y2="528.7" stroke="#bcbcbc" stroke-width="0.7"/>
<line x1="22.6" y1="509.45" x2="175.5" y2="509.45" stroke="#bcbcbc" stroke-width="0.7"/>
<line x1="22.6" y1="490.20" x2="175.5" y2="490.20" stroke="#bcbcbc" stroke-width="0.7"/>
<line x1="22.6" y1="470.95" x2="175.5" y2="470.95" stroke="#bcbcbc" stroke-width="0.7"/>
<line x1="22.6" y1="451.70" x2="175.5" y2="451.70" stroke="#bcbcbc" stroke-width="0.7"/>
<line x1="22.6" y1="432.45" x2="175.5" y2="432.45" stroke="#bcbcbc" stroke-width="0.7"/>
<clipPath id="c3"><rect x="22.6" y="413.2" width="152.9" height="115.50000000000006"/></clipPath>
<g clip-path="url(#c3)">
<circle cx="30.25" cy="442.07" r="1.3" fill="#c62a38"/>
<circle cx="37.89" cy="442.07" r="1.3" fill="#c62a38"/>
<circle cx="45.53" cy="440.15" r="1.3" fill="#c62a38"/>
<circle cx="53.18" cy="440.15" r="1.3" fill="#c62a38"/>
<circle cx="60.83" cy="440.15" r="1.3" fill="#c62a38"/>
<circle cx="68.47" cy="444.00" r="1.3" fill="#c62a38"/>
<circle cx="76.12" cy="445.93" r="1.3" fill="#c62a38"/>
<circle cx="83.76" cy="449.77" r="1.3" fill="#c62a38"/>
<circle cx="91.41" cy="451.70" r="1.3" fill="#c62a38"/>
<circle cx="99.05" cy="455.55" r="1.3" fill="#c62a38"/>
<circle cx="106.70" cy="465.18" r="1.3" fill="#c62a38"/>
<circle cx="114.34" cy="467.10" r="1.3" fill="#c62a38"/>
<circle cx="121.99" cy="472.88" r="1.3" fill="#c62a38"/>
<circle cx="129.63" cy="480.58" r="1.3" fill="#c62a38"/>
<circle cx="137.28" cy="486.35" r="1.3" fill="#c62a38"/>
<circle cx="144.92" cy="492.12" r="1.3" fill="#c62a38"/>
<circle cx="152.56" cy="495.98" r="1.3" fill="#c62a38"/>
<path d="M22.60,440.91 L24.51,440.44 L26.42,439.99 L28.33,439.55 L30.25,439.13 L32.16,438.73 L34.07,438.35 L35.98,438.00 L37.89,437.69 L39.80,437.41 L41.71,437.18 L43.62,437.00 L45.53,436.87 L47.45,436.79 L49.36,436.78 L51.27,436.82 L53.18,436.92 L55.09,437.09 L57.00,437.31 L58.91,437.59 L60.83,437.93 L62.74,438.33 L64.65,438.79 L66.56,439.29 L68.47,439.85 L70.38,440.46 L72.29,441.12 L74.20,441.83 L76.12,442.57 L78.03,443.37 L79.94,444.20 L81.85,445.08 L83.76,445.99 L85.67,446.94 L87.58,447.92 L89.49,448.94 L91.41,450.00 L93.32,451.08 L95.23,452.20 L97.14,453.34 L99.05,454.52 L100.96,455.72 L102.87,456.95 L104.78,458.21 L106.70,459.49 L108.61,460.79 L110.52,462.12 L112.43,463.47 L114.34,464.84 L116.25,466.22 L118.16,467.63 L120.07,469.04 L121.99,470.48 L123.90,471.92 L125.81,473.38 L127.72,474.84 L129.63,476.31 L131.54,477.79 L133.45,479.27 L135.36,480.75 L137.28,482.24 L139.19,483.72 L141.10,485.20 L143.01,486.67 L144.92,488.14 L146.83,489.60 L148.74,491.05 L150.65,492.49 L152.56,493.92 L154.48,495.34 L156.39,496.75 L158.30,498.15 L160.21,499.53 L162.12,500.90 L164.03,502.26 L165.94,503.61 L167.85,504.95 L169.77,506.27 L171.68,507.58 L173.59,508.88 L175.50,510.16" stroke="#6f98b8" stroke-width="0.7" stroke-dasharray="1.4 1.4" fill="none"/>
<path d="M22.60,450.78 L24.51,449.59 L26.42,448.50 L28.33,447.53 L30.25,446.67 L32.16,445.91 L34.07,445.26 L35.98,444.71 L37.89,444.25 L39.80,443.88 L41.71,443.59 L43.62,443.38 L45.53,443.24 L47.45,443.17 L49.36,443.16 L51.27,443.22 L53.18,443.33 L55.09,443.50 L57.00,443.73 L58.91,444.01 L60.83,444.34 L62.74,444.73 L64.65,445.16 L66.56,445.65 L68.47,446.19 L70.38,446.78 L72.29,447.41 L74.20,448.10 L76.12,448.83 L78.03,449.61 L79.94,450.43 L81.85,451.29 L83.76,452.20 L85.67,453.15 L87.58,454.14 L89.49,455.16 L91.41,456.23 L93.32,457.32 L95.23,458.45 L97.14,459.61 L99.05,460.79 L100.96,462.01 L102.87,463.25 L104.78,464.51 L106.70,465.80 L108.61,467.10 L110.52,468.43 L112.43,469.78 L114.34,471.14 L116.25,472.51 L118.16,473.91 L120.07,475.31 L121.99,476.73 L123.90,478.17 L125.81,479.61 L127.72,481.07 L129.63,482.54 L131.54,484.02 L133.45,485.51 L135.36,487.02 L137.28,488.53 L139.19,490.06 L141.10,491.60 L143.01,493.15 L144.92,494.71 L146.83,496.28 L148.74,497.86 L150.65,499.45 L152.56,501.06 L154.48,502.67 L156.39,504.29 L158.30,505.91 L160.21,507.55 L162.12,509.19 L164.03,510.83 L165.94,512.48 L167.85,514.14 L169.77,515.79 L171.68,517.45 L173.59,519.10 L175.50,520.76" stroke="#6f98b8" stroke-width="0.7" stroke-dasharray="1.4 1.4" fill="none"/>
<path d="M22.60,445.84 L24.51,445.01 L26.42,444.24 L28.33,443.54 L30.25,442.90 L32.16,442.32 L34.07,441.81 L35.98,441.36 L37.89,440.97 L39.80,440.65 L41.71,440.39 L43.62,440.19 L45.53,440.06 L47.45,439.98 L49.36,439.97 L51.27,440.02 L53.18,440.13 L55.09,440.29 L57.00,440.52 L58.91,440.80 L60.83,441.14 L62.74,441.53 L64.65,441.97 L66.56,442.47 L68.47,443.02 L70.38,443.62 L72.29,444.27 L74.20,444.96 L76.12,445.70 L78.03,446.49 L79.94,447.32 L81.85,448.19 L83.76,449.10 L85.67,450.04 L87.58,451.03 L89.49,452.05 L91.41,453.11 L93.32,454.20 L95.23,455.32 L97.14,456.48 L99.05,457.66 L100.96,458.87 L102.87,460.10 L104.78,461.36 L106.70,462.64 L108.61,463.95 L110.52,465.28 L112.43,466.62 L114.34,467.99 L116.25,469.37 L118.16,470.77 L120.07,472.18 L121.99,473.61 L123.90,475.04 L125.81,476.49 L127.72,477.96 L129.63,479.43 L131.54,480.91 L133.45,482.39 L135.36,483.89 L137.28,485.38 L139.19,486.89 L141.10,488.40 L143.01,489.91 L144.92,491.42 L146.83,492.94 L148.74,494.45 L150.65,495.97 L152.56,497.49 L154.48,499.00 L156.39,500.52 L158.30,502.03 L160.21,503.54 L162.12,505.05 L164.03,506.55 L165.94,508.05 L167.85,509.54 L169.77,511.03 L171.68,512.51 L173.59,513.99 L175.50,515.46" stroke="#3a6d94" stroke-width="1.05" fill="none"/>
</g>
<rect x="22.6" y="413.2" width="152.90" height="115.50" fill="none" stroke="#6c6c6c" stroke-width="0.9"/>
<path d="M22.60,528.7v-1.6M22.60,413.2v1.6M53.18,528.7v-1.6M53.18,413.2v1.6M83.76,528.7v-1.6M83.76,413.2v1.6M114.34,528.7v-1.6M114.34,413.2v1.6M144.92,528.7v-1.6M144.92,413.2v1.6M175.50,528.7v-1.6M175.50,413.2v1.6M22.6,528.70h1.6M175.5,528.70h-1.6M22.6,509.45h1.6M175.5,509.45h-1.6M22.6,490.20h1.6M175.5,490.20h-1.6M22.6,470.95h1.6M175.5,470.95h-1.6M22.6,451.70h1.6M175.5,451.70h-1.6M22.6,432.45h1.6M175.5,432.45h-1.6M22.6,413.20h1.6M175.5,413.20h-1.6" stroke="#6c6c6c" stroke-width="0.6" fill="none"/>
<text transform="translate(22.60,537.00) scale(1,1.0)" font-size="6.3" letter-spacing="0" class="t" text-anchor="middle" font-family="Liberation Serif, Times New Roman, serif" font-weight="bold">1999</text>
<text transform="translate(53.18,537.00) scale(1,1.0)" font-size="6.3" letter-spacing="0" class="t" text-anchor="middle" font-family="Liberation Serif, Times New Roman, serif" font-weight="bold">2003</text>
<text transform="translate(83.76,537.00) scale(1,1.0)" font-size="6.3" letter-spacing="0" class="t" text-anchor="middle" font-family="Liberation Serif, Times New Roman, serif" font-weight="bold">2007</text>
<text transform="translate(114.34,537.00) scale(1,1.0)" font-size="6.3" letter-spacing="0" class="t" text-anchor="middle" font-family="Liberation Serif, Times New Roman, serif" font-weight="bold">2011</text>
<text transform="translate(144.92,537.00) scale(1,1.0)" font-size="6.3" letter-spacing="0" class="t" text-anchor="middle" font-family="Liberation Serif, Times New Roman, serif" font-weight="bold">2015</text>
<text transform="translate(175.50,537.00) scale(1,1.0)" font-size="6.3" letter-spacing="0" class="t" text-anchor="middle" font-family="Liberation Serif, Times New Roman, serif" font-weight="bold">2019</text>
<text transform="translate(20.00,530.78) scale(1,1.0)" font-size="6.3" letter-spacing="0" class="t" text-anchor="end" font-family="Liberation Serif, Times New Roman, serif" font-weight="bold">70</text>
<text transform="translate(20.00,511.53) scale(1,1.0)" font-size="6.3" letter-spacing="0" class="t" text-anchor="end" font-family="Liberation Serif, Times New Roman, serif" font-weight="bold">80</text>
<text transform="translate(20.00,492.28) scale(1,1.0)" font-size="6.3" letter-spacing="0" class="t" text-anchor="end" font-family="Liberation Serif, Times New Roman, serif" font-weight="bold">90</text>
<text transform="translate(20.00,473.03) scale(1,1.0)" font-size="6.3" letter-spacing="0" class="t" text-anchor="end" font-family="Liberation Serif, Times New Roman, serif" font-weight="bold">100</text>
<text transform="translate(20.00,453.78) scale(1,1.0)" font-size="6.3" letter-spacing="0" class="t" text-anchor="end" font-family="Liberation Serif, Times New Roman, serif" font-weight="bold">110</text>
<text transform="translate(20.00,434.53) scale(1,1.0)" font-size="6.3" letter-spacing="0" class="t" text-anchor="end" font-family="Liberation Serif, Times New Roman, serif" font-weight="bold">120</text>
<text transform="translate(20.00,415.28) scale(1,1.0)" font-size="6.3" letter-spacing="0" class="t" text-anchor="end" font-family="Liberation Serif, Times New Roman, serif" font-weight="bold">130</text>
<text x="99.05" y="545.3000000000001" font-size="7.2" text-anchor="middle" font-family="Liberation Serif, Times New Roman, serif" font-weight="bold">Year</text>
<text transform="translate(10.000000000000002,470.95) rotate(-90)" font-size="7.2" text-anchor="middle" font-family="Liberation Serif, Times New Roman, serif" font-weight="bold">Prevalence</text>
<circle cx="116.10" cy="421.2" r="1.0" fill="#c62a38"/>
<line x1="110.19999999999999" y1="427.8" x2="121.99999999999999" y2="427.8" stroke="#3a6d94" stroke-width="0.7"/>
<line x1="110.19999999999999" y1="435.0" x2="121.99999999999999" y2="435.0" stroke="#6f98b8" stroke-width="0.7" stroke-dasharray="1.4 1.4"/>
<text x="123.00" y="423.10" font-size="5.75" font-family="Liberation Serif, Times New Roman, serif" font-weight="bold">Prevalence vs. Year</text>
<text x="123.00" y="430.10" font-size="5.75" font-family="Liberation Serif, Times New Roman, serif" font-weight="bold">Reci-Exp2</text>
<text x="123.00" y="437.10" font-size="5.75" font-family="Liberation Serif, Times New Roman, serif" font-weight="bold">Pred bnds (95%)</text>
<text x="29.00" y="496.40" font-size="8.1" class="st" font-family="Liberation Serif, Times New Roman, serif" font-weight="bold">SSE:6.353</text>
<text x="29.00" y="505.70" font-size="8.1" class="st" font-family="Liberation Serif, Times New Roman, serif" font-weight="bold">R-square:0.9962</text>
<text x="29.00" y="515.00" font-size="8.1" class="st" font-family="Liberation Serif, Times New Roman, serif" font-weight="bold">AdjustedR-square:0.9953</text>
<text x="29.00" y="524.30" font-size="8.1" class="st" font-family="Liberation Serif, Times New Roman, serif" font-weight="bold">RMSE:0.6991</text>
<line x1="227.14" y1="413.2" x2="227.14" y2="528.7" stroke="#bcbcbc" stroke-width="0.7"/>
<line x1="257.68" y1="413.2" x2="257.68" y2="528.7" stroke="#bcbcbc" stroke-width="0.7"/>
<line x1="288.22" y1="413.2" x2="288.22" y2="528.7" stroke="#bcbcbc" stroke-width="0.7"/>
<line x1="318.76" y1="413.2" x2="318.76" y2="528.7" stroke="#bcbcbc" stroke-width="0.7"/>
<line x1="196.6" y1="509.45" x2="349.3" y2="509.45" stroke="#bcbcbc" stroke-width="0.7"/>
<line x1="196.6" y1="490.20" x2="349.3" y2="490.20" stroke="#bcbcbc" stroke-width="0.7"/>
<line x1="196.6" y1="470.95" x2="349.3" y2="470.95" stroke="#bcbcbc" stroke-width="0.7"/>
<line x1="196.6" y1="451.70" x2="349.3" y2="451.70" stroke="#bcbcbc" stroke-width="0.7"/>
<line x1="196.6" y1="432.45" x2="349.3" y2="432.45" stroke="#bcbcbc" stroke-width="0.7"/>
<clipPath id="c4"><rect x="196.6" y="413.2" width="152.70000000000002" height="115.50000000000006"/></clipPath>
<g clip-path="url(#c4)">
<circle cx="204.23" cy="442.07" r="1.3" fill="#c62a38"/>
<circle cx="211.87" cy="442.07" r="1.3" fill="#c62a38"/>
<circle cx="219.50" cy="440.15" r="1.3" fill="#c62a38"/>
<circle cx="227.14" cy="440.15" r="1.3" fill="#c62a38"/>
<circle cx="234.78" cy="440.15" r="1.3" fill="#c62a38"/>
<circle cx="242.41" cy="444.00" r="1.3" fill="#c62a38"/>
<circle cx="250.04" cy="445.93" r="1.3" fill="#c62a38"/>
<circle cx="257.68" cy="449.77" r="1.3" fill="#c62a38"/>
<circle cx="265.31" cy="451.70" r="1.3" fill="#c62a38"/>
<circle cx="272.95" cy="455.55" r="1.3" fill="#c62a38"/>
<circle cx="280.59" cy="465.18" r="1.3" fill="#c62a38"/>
<circle cx="288.22" cy="467.10" r="1.3" fill="#c62a38"/>
<circle cx="295.86" cy="472.88" r="1.3" fill="#c62a38"/>
<circle cx="303.49" cy="480.58" r="1.3" fill="#c62a38"/>
<circle cx="311.12" cy="486.35" r="1.3" fill="#c62a38"/>
<circle cx="318.76" cy="492.12" r="1.3" fill="#c62a38"/>
<circle cx="326.39" cy="495.98" r="1.3" fill="#c62a38"/>
<path d="M196.60,438.65 L198.51,438.30 L200.42,437.99 L202.33,437.72 L204.23,437.48 L206.14,437.27 L208.05,437.09 L209.96,436.96 L211.87,436.85 L213.78,436.79 L215.69,436.75 L217.60,436.76 L219.50,436.80 L221.41,436.88 L223.32,437.00 L225.23,437.15 L227.14,437.34 L229.05,437.57 L230.96,437.84 L232.87,438.15 L234.78,438.49 L236.68,438.88 L238.59,439.31 L240.50,439.77 L242.41,440.28 L244.32,440.82 L246.23,441.41 L248.14,442.03 L250.04,442.70 L251.95,443.40 L253.86,444.14 L255.77,444.92 L257.68,445.74 L259.59,446.59 L261.50,447.49 L263.41,448.42 L265.31,449.38 L267.22,450.39 L269.13,451.42 L271.04,452.50 L272.95,453.60 L274.86,454.74 L276.77,455.91 L278.68,457.12 L280.59,458.35 L282.49,459.62 L284.40,460.91 L286.31,462.23 L288.22,463.58 L290.13,464.96 L292.04,466.36 L293.95,467.78 L295.86,469.23 L297.76,470.70 L299.67,472.20 L301.58,473.71 L303.49,475.25 L305.40,476.80 L307.31,478.37 L309.22,479.96 L311.12,481.57 L313.03,483.19 L314.94,484.83 L316.85,486.47 L318.76,488.14 L320.67,489.81 L322.58,491.49 L324.49,493.19 L326.39,494.90 L328.30,496.61 L330.21,498.33 L332.12,500.06 L334.03,501.80 L335.94,503.55 L337.85,505.30 L339.76,507.05 L341.66,508.81 L343.57,510.58 L345.48,512.34 L347.39,514.12 L349.30,515.89" stroke="#dd9a88" stroke-width="0.7" stroke-dasharray="1.4 1.4" fill="none"/>
<path d="M196.60,447.44 L198.51,446.89 L200.42,446.40 L202.33,445.95 L204.23,445.55 L206.14,445.20 L208.05,444.89 L209.96,444.64 L211.87,444.43 L213.78,444.27 L215.69,444.16 L217.60,444.10 L219.50,444.08 L221.41,444.11 L223.32,444.19 L225.23,444.31 L227.14,444.48 L229.05,444.70 L230.96,444.96 L232.87,445.26 L234.78,445.60 L236.68,445.99 L238.59,446.42 L240.50,446.90 L242.41,447.41 L244.32,447.96 L246.23,448.56 L248.14,449.19 L250.04,449.86 L251.95,450.57 L253.86,451.32 L255.77,452.10 L257.68,452.92 L259.59,453.78 L261.50,454.68 L263.41,455.60 L265.31,456.57 L267.22,457.57 L269.13,458.60 L271.04,459.66 L272.95,460.76 L274.86,461.89 L276.77,463.05 L278.68,464.25 L280.59,465.47 L282.49,466.72 L284.40,468.01 L286.31,469.32 L288.22,470.67 L290.13,472.04 L292.04,473.44 L293.95,474.87 L295.86,476.32 L297.76,477.80 L299.67,479.31 L301.58,480.84 L303.49,482.40 L305.40,483.98 L307.31,485.59 L309.22,487.21 L311.12,488.86 L313.03,490.54 L314.94,492.23 L316.85,493.94 L318.76,495.68 L320.67,497.43 L322.58,499.20 L324.49,500.98 L326.39,502.78 L328.30,504.60 L330.21,506.43 L332.12,508.28 L334.03,510.14 L335.94,512.01 L337.85,513.89 L339.76,515.77 L341.66,517.67 L343.57,519.58 L345.48,521.49 L347.39,523.41 L349.30,525.33" stroke="#dd9a88" stroke-width="0.7" stroke-dasharray="1.4 1.4" fill="none"/>
<path d="M196.60,443.04 L198.51,442.60 L200.42,442.20 L202.33,441.83 L204.23,441.51 L206.14,441.23 L208.05,440.99 L209.96,440.80 L211.87,440.64 L213.78,440.53 L215.69,440.46 L217.60,440.43 L219.50,440.44 L221.41,440.50 L223.32,440.59 L225.23,440.73 L227.14,440.91 L229.05,441.13 L230.96,441.40 L232.87,441.70 L234.78,442.05 L236.68,442.44 L238.59,442.87 L240.50,443.33 L242.41,443.84 L244.32,444.39 L246.23,444.98 L248.14,445.61 L250.04,446.28 L251.95,446.98 L253.86,447.73 L255.77,448.51 L257.68,449.33 L259.59,450.19 L261.50,451.08 L263.41,452.01 L265.31,452.98 L267.22,453.98 L269.13,455.01 L271.04,456.08 L272.95,457.18 L274.86,458.32 L276.77,459.48 L278.68,460.68 L280.59,461.91 L282.49,463.17 L284.40,464.46 L286.31,465.78 L288.22,467.12 L290.13,468.50 L292.04,469.90 L293.95,471.32 L295.86,472.78 L297.76,474.25 L299.67,475.75 L301.58,477.28 L303.49,478.82 L305.40,480.39 L307.31,481.98 L309.22,483.59 L311.12,485.22 L313.03,486.86 L314.94,488.53 L316.85,490.21 L318.76,491.91 L320.67,493.62 L322.58,495.35 L324.49,497.09 L326.39,498.84 L328.30,500.61 L330.21,502.38 L332.12,504.17 L334.03,505.97 L335.94,507.78 L337.85,509.59 L339.76,511.41 L341.66,513.24 L343.57,515.08 L345.48,516.92 L347.39,518.76 L349.30,520.61" stroke="#c8472c" stroke-width="1.05" fill="none"/>
</g>
<rect x="196.6" y="413.2" width="152.70" height="115.50" fill="none" stroke="#6c6c6c" stroke-width="0.9"/>
<path d="M196.60,528.7v-1.6M196.60,413.2v1.6M227.14,528.7v-1.6M227.14,413.2v1.6M257.68,528.7v-1.6M257.68,413.2v1.6M288.22,528.7v-1.6M288.22,413.2v1.6M318.76,528.7v-1.6M318.76,413.2v1.6M349.30,528.7v-1.6M349.30,413.2v1.6M196.6,528.70h1.6M349.3,528.70h-1.6M196.6,509.45h1.6M349.3,509.45h-1.6M196.6,490.20h1.6M349.3,490.20h-1.6M196.6,470.95h1.6M349.3,470.95h-1.6M196.6,451.70h1.6M349.3,451.70h-1.6M196.6,432.45h1.6M349.3,432.45h-1.6M196.6,413.20h1.6M349.3,413.20h-1.6" stroke="#6c6c6c" stroke-width="0.6" fill="none"/>
<text transform="translate(196.60,537.00) scale(1,1.0)" font-size="6.3" letter-spacing="0" class="t" text-anchor="middle" font-family="Liberation Serif, Times New Roman, serif" font-weight="bold">1999</text>
<text transform="translate(227.14,537.00) scale(1,1.0)" font-size="6.3" letter-spacing="0" class="t" text-anchor="middle" font-family="Liberation Serif, Times New Roman, serif" font-weight="bold">2003</text>
<text transform="translate(257.68,537.00) scale(1,1.0)" font-size="6.3" letter-spacing="0" class="t" text-anchor="middle" font-family="Liberation Serif, Times New Roman, serif" font-weight="bold">2007</text>
<text transform="translate(288.22,537.00) scale(1,1.0)" font-size="6.3" letter-spacing="0" class="t" text-anchor="middle" font-family="Liberation Serif, Times New Roman, serif" font-weight="bold">2011</text>
<text transform="translate(318.76,537.00) scale(1,1.0)" font-size="6.3" letter-spacing="0" class="t" text-anchor="middle" font-family="Liberation Serif, Times New Roman, serif" font-weight="bold">2015</text>
<text transform="translate(349.30,537.00) scale(1,1.0)" font-size="6.3" letter-spacing="0" class="t" text-anchor="middle" font-family="Liberation Serif, Times New Roman, serif" font-weight="bold">2019</text>
<text transform="translate(194.00,530.78) scale(1,1.0)" font-size="6.3" letter-spacing="0" class="t" text-anchor="end" font-family="Liberation Serif, Times New Roman, serif" font-weight="bold">70</text>
<text transform="translate(194.00,511.53) scale(1,1.0)" font-size="6.3" letter-spacing="0" class="t" text-anchor="end" font-family="Liberation Serif, Times New Roman, serif" font-weight="bold">80</text>
<text transform="translate(194.00,492.28) scale(1,1.0)" font-size="6.3" letter-spacing="0" class="t" text-anchor="end" font-family="Liberation Serif, Times New Roman, serif" font-weight="bold">90</text>
<text transform="translate(194.00,473.03) scale(1,1.0)" font-size="6.3" letter-spacing="0" class="t" text-anchor="end" font-family="Liberation Serif, Times New Roman, serif" font-weight="bold">100</text>
<text transform="translate(194.00,453.78) scale(1,1.0)" font-size="6.3" letter-spacing="0" class="t" text-anchor="end" font-family="Liberation Serif, Times New Roman, serif" font-weight="bold">110</text>
<text transform="translate(194.00,434.53) scale(1,1.0)" font-size="6.3" letter-spacing="0" class="t" text-anchor="end" font-family="Liberation Serif, Times New Roman, serif" font-weight="bold">120</text>
<text transform="translate(194.00,415.28) scale(1,1.0)" font-size="6.3" letter-spacing="0" class="t" text-anchor="end" font-family="Liberation Serif, Times New Roman, serif" font-weight="bold">130</text>
<text x="272.95" y="545.3000000000001" font-size="7.2" text-anchor="middle" font-family="Liberation Serif, Times New Roman, serif" font-weight="bold">Year</text>
<text transform="translate(184.0,470.95) rotate(-90)" font-size="7.2" text-anchor="middle" font-family="Liberation Serif, Times New Roman, serif" font-weight="bold">Prevalence</text>
<circle cx="290.10" cy="421.2" r="1.0" fill="#c62a38"/>
<line x1="284.2" y1="427.8" x2="296.0" y2="427.8" stroke="#c8472c" stroke-width="0.7"/>
<line x1="284.2" y1="435.0" x2="296.0" y2="435.0" stroke="#dd9a88" stroke-width="0.7" stroke-dasharray="1.4 1.4"/>
<text x="297.00" y="423.10" font-size="5.75" font-family="Liberation Serif, Times New Roman, serif" font-weight="bold">Prevalence vs. Year</text>
<text x="297.00" y="430.10" font-size="5.75" font-family="Liberation Serif, Times New Roman, serif" font-weight="bold">Power2-Ploy2</text>
<text x="297.00" y="437.10" font-size="5.75" font-family="Liberation Serif, Times New Roman, serif" font-weight="bold">Pred bnds (95%)</text>
<text x="203.00" y="496.40" font-size="8.1" class="st" font-family="Liberation Serif, Times New Roman, serif" font-weight="bold">SSE:9.326</text>
<text x="203.00" y="505.70" font-size="8.1" class="st" font-family="Liberation Serif, Times New Roman, serif" font-weight="bold">R-square:0.9944</text>
<text x="203.00" y="515.00" font-size="8.1" class="st" font-family="Liberation Serif, Times New Roman, serif" font-weight="bold">AdjustedR-square:0.9936</text>
<text x="203.00" y="524.30" font-size="8.1" class="st" font-family="Liberation Serif, Times New Roman, serif" font-weight="bold">RMSE:0.8162</text>
<line x1="400.62" y1="413.2" x2="400.62" y2="528.7" stroke="#bcbcbc" stroke-width="0.7"/>
<line x1="431.14" y1="413.2" x2="431.14" y2="528.7" stroke="#bcbcbc" stroke-width="0.7"/>
<line x1="461.66" y1="413.2" x2="461.66" y2="528.7" stroke="#bcbcbc" stroke-width="0.7"/>
<line x1="492.18" y1="413.2" x2="492.18" y2="528.7" stroke="#bcbcbc" stroke-width="0.7"/>
<line x1="370.1" y1="509.45" x2="522.7" y2="509.45" stroke="#bcbcbc" stroke-width="0.7"/>
<line x1="370.1" y1="490.20" x2="522.7" y2="490.20" stroke="#bcbcbc" stroke-width="0.7"/>
<line x1="370.1" y1="470.95" x2="522.7" y2="470.95" stroke="#bcbcbc" stroke-width="0.7"/>
<line x1="370.1" y1="451.70" x2="522.7" y2="451.70" stroke="#bcbcbc" stroke-width="0.7"/>
<line x1="370.1" y1="432.45" x2="522.7" y2="432.45" stroke="#bcbcbc" stroke-width="0.7"/>
<clipPath id="c5"><rect x="370.1" y="413.2" width="152.60000000000002" height="115.50000000000006"/></clipPath>
<g clip-path="url(#c5)">
<circle cx="377.73" cy="442.07" r="1.3" fill="#c62a38"/>
<circle cx="385.36" cy="442.07" r="1.3" fill="#c62a38"/>
<circle cx="392.99" cy="440.15" r="1.3" fill="#c62a38"/>
<circle cx="400.62" cy="440.15" r="1.3" fill="#c62a38"/>
<circle cx="408.25" cy="440.15" r="1.3" fill="#c62a38"/>
<circle cx="415.88" cy="444.00" r="1.3" fill="#c62a38"/>
<circle cx="423.51" cy="445.93" r="1.3" fill="#c62a38"/>
<circle cx="431.14" cy="449.77" r="1.3" fill="#c62a38"/>
<circle cx="438.77" cy="451.70" r="1.3" fill="#c62a38"/>
<circle cx="446.40" cy="455.55" r="1.3" fill="#c62a38"/>
<circle cx="454.03" cy="465.18" r="1.3" fill="#c62a38"/>
<circle cx="461.66" cy="467.10" r="1.3" fill="#c62a38"/>
<circle cx="469.29" cy="472.88" r="1.3" fill="#c62a38"/>
<circle cx="476.92" cy="480.58" r="1.3" fill="#c62a38"/>
<circle cx="484.55" cy="486.35" r="1.3" fill="#c62a38"/>
<circle cx="492.18" cy="492.12" r="1.3" fill="#c62a38"/>
<circle cx="499.81" cy="495.98" r="1.3" fill="#c62a38"/>
<path d="M370.10,441.11 L372.01,440.59 L373.92,440.09 L375.82,439.61 L377.73,439.16 L379.64,438.72 L381.55,438.32 L383.45,437.95 L385.36,437.61 L387.27,437.32 L389.18,437.08 L391.08,436.89 L392.99,436.76 L394.90,436.68 L396.81,436.67 L398.71,436.72 L400.62,436.83 L402.53,437.00 L404.44,437.24 L406.34,437.53 L408.25,437.88 L410.16,438.29 L412.07,438.75 L413.97,439.27 L415.88,439.84 L417.79,440.46 L419.70,441.12 L421.60,441.83 L423.51,442.59 L425.42,443.38 L427.33,444.22 L429.23,445.10 L431.14,446.01 L433.05,446.96 L434.96,447.94 L436.86,448.96 L438.77,450.01 L440.68,451.09 L442.59,452.21 L444.49,453.35 L446.40,454.52 L448.31,455.72 L450.22,456.94 L452.12,458.19 L454.03,459.46 L455.94,460.76 L457.85,462.08 L459.75,463.42 L461.66,464.78 L463.57,466.16 L465.48,467.56 L467.38,468.97 L469.29,470.40 L471.20,471.84 L473.11,473.30 L475.01,474.76 L476.92,476.23 L478.83,477.71 L480.74,479.19 L482.64,480.68 L484.55,482.17 L486.46,483.65 L488.37,485.14 L490.27,486.62 L492.18,488.09 L494.09,489.56 L496.00,491.02 L497.90,492.47 L499.81,493.90 L501.72,495.33 L503.63,496.74 L505.53,498.14 L507.44,499.53 L509.35,500.90 L511.26,502.26 L513.16,503.61 L515.07,504.94 L516.98,506.25 L518.88,507.56 L520.79,508.85 L522.70,510.12" stroke="#bcd86c" stroke-width="0.7" stroke-dasharray="1.4 1.4" fill="none"/>
<path d="M370.10,451.26 L372.01,449.95 L373.92,448.77 L375.82,447.72 L377.73,446.80 L379.64,445.99 L381.55,445.30 L383.45,444.72 L385.36,444.24 L387.27,443.86 L389.18,443.56 L391.08,443.35 L392.99,443.20 L394.90,443.13 L396.81,443.13 L398.71,443.19 L400.62,443.31 L402.53,443.49 L404.44,443.72 L406.34,444.01 L408.25,444.36 L410.16,444.75 L412.07,445.20 L413.97,445.70 L415.88,446.24 L417.79,446.84 L419.70,447.48 L421.60,448.17 L423.51,448.91 L425.42,449.69 L427.33,450.52 L429.23,451.38 L431.14,452.29 L433.05,453.24 L434.96,454.23 L436.86,455.25 L438.77,456.31 L440.68,457.40 L442.59,458.52 L444.49,459.67 L446.40,460.86 L448.31,462.07 L450.22,463.30 L452.12,464.56 L454.03,465.84 L455.94,467.14 L457.85,468.46 L459.75,469.80 L461.66,471.16 L463.57,472.53 L465.48,473.92 L467.38,475.32 L469.29,476.74 L471.20,478.17 L473.11,479.61 L475.01,481.07 L476.92,482.54 L478.83,484.02 L480.74,485.51 L482.64,487.02 L484.55,488.54 L486.46,490.07 L488.37,491.61 L490.27,493.17 L492.18,494.74 L494.09,496.32 L496.00,497.92 L497.90,499.53 L499.81,501.16 L501.72,502.79 L503.63,504.44 L505.53,506.10 L507.44,507.77 L509.35,509.45 L511.26,511.13 L513.16,512.83 L515.07,514.53 L516.98,516.24 L518.88,517.95 L520.79,519.66 L522.70,521.38" stroke="#bcd86c" stroke-width="0.7" stroke-dasharray="1.4 1.4" fill="none"/>
<path d="M370.10,446.18 L372.01,445.27 L373.92,444.43 L375.82,443.67 L377.73,442.98 L379.64,442.36 L381.55,441.81 L383.45,441.33 L385.36,440.93 L387.27,440.59 L389.18,440.32 L391.08,440.12 L392.99,439.98 L394.90,439.91 L396.81,439.90 L398.71,439.96 L400.62,440.07 L402.53,440.25 L404.44,440.48 L406.34,440.77 L408.25,441.12 L410.16,441.52 L412.07,441.98 L413.97,442.48 L415.88,443.04 L417.79,443.65 L419.70,444.30 L421.60,445.00 L423.51,445.75 L425.42,446.54 L427.33,447.37 L429.23,448.24 L431.14,449.15 L433.05,450.10 L434.96,451.09 L436.86,452.11 L438.77,453.16 L440.68,454.25 L442.59,455.36 L444.49,456.51 L446.40,457.69 L448.31,458.89 L450.22,460.12 L452.12,461.37 L454.03,462.65 L455.94,463.95 L457.85,465.27 L459.75,466.61 L461.66,467.97 L463.57,469.34 L465.48,470.74 L467.38,472.15 L469.29,473.57 L471.20,475.00 L473.11,476.45 L475.01,477.91 L476.92,479.38 L478.83,480.86 L480.74,482.35 L482.64,483.85 L484.55,485.35 L486.46,486.86 L488.37,488.38 L490.27,489.89 L492.18,491.42 L494.09,492.94 L496.00,494.47 L497.90,496.00 L499.81,497.53 L501.72,499.06 L503.63,500.59 L505.53,502.12 L507.44,503.65 L509.35,505.17 L511.26,506.70 L513.16,508.22 L515.07,509.73 L516.98,511.24 L518.88,512.75 L520.79,514.25 L522.70,515.75" stroke="#86b81c" stroke-width="1.05" fill="none"/>
</g>
<rect x="370.1" y="413.2" width="152.60" height="115.50" fill="none" stroke="#6c6c6c" stroke-width="0.9"/>
<path d="M370.10,528.7v-1.6M370.10,413.2v1.6M400.62,528.7v-1.6M400.62,413.2v1.6M431.14,528.7v-1.6M431.14,413.2v1.6M461.66,528.7v-1.6M461.66,413.2v1.6M492.18,528.7v-1.6M492.18,413.2v1.6M522.70,528.7v-1.6M522.70,413.2v1.6M370.1,528.70h1.6M522.7,528.70h-1.6M370.1,509.45h1.6M522.7,509.45h-1.6M370.1,490.20h1.6M522.7,490.20h-1.6M370.1,470.95h1.6M522.7,470.95h-1.6M370.1,451.70h1.6M522.7,451.70h-1.6M370.1,432.45h1.6M522.7,432.45h-1.6M370.1,413.20h1.6M522.7,413.20h-1.6" stroke="#6c6c6c" stroke-width="0.6" fill="none"/>
<text transform="translate(370.10,537.00) scale(1,1.0)" font-size="6.3" letter-spacing="0" class="t" text-anchor="middle" font-family="Liberation Serif, Times New Roman, serif" font-weight="bold">1999</text>
<text transform="translate(400.62,537.00) scale(1,1.0)" font-size="6.3" letter-spacing="0" class="t" text-anchor="middle" font-family="Liberation Serif, Times New Roman, serif" font-weight="bold">2003</text>
<text transform="translate(431.14,537.00) scale(1,1.0)" font-size="6.3" letter-spacing="0" class="t" text-anchor="middle" font-family="Liberation Serif, Times New Roman, serif" font-weight="bold">2007</text>
<text transform="translate(461.66,537.00) scale(1,1.0)" font-size="6.3" letter-spacing="0" class="t" text-anchor="middle" font-family="Liberation Serif, Times New Roman, serif" font-weight="bold">2011</text>
<text transform="translate(492.18,537.00) scale(1,1.0)" font-size="6.3" letter-spacing="0" class="t" text-anchor="middle" font-family="Liberation Serif, Times New Roman, serif" font-weight="bold">2015</text>
<text transform="translate(522.70,537.00) scale(1,1.0)" font-size="6.3" letter-spacing="0" class="t" text-anchor="middle" font-family="Liberation Serif, Times New Roman, serif" font-weight="bold">2019</text>
<text transform="translate(367.50,530.78) scale(1,1.0)" font-size="6.3" letter-spacing="0" class="t" text-anchor="end" font-family="Liberation Serif, Times New Roman, serif" font-weight="bold">70</text>
<text transform="translate(367.50,511.53) scale(1,1.0)" font-size="6.3" letter-spacing="0" class="t" text-anchor="end" font-family="Liberation Serif, Times New Roman, serif" font-weight="bold">80</text>
<text transform="translate(367.50,492.28) scale(1,1.0)" font-size="6.3" letter-spacing="0" class="t" text-anchor="end" font-family="Liberation Serif, Times New Roman, serif" font-weight="bold">90</text>
<text transform="translate(367.50,473.03) scale(1,1.0)" font-size="6.3" letter-spacing="0" class="t" text-anchor="end" font-family="Liberation Serif, Times New Roman, serif" font-weight="bold">100</text>
<text transform="translate(367.50,453.78) scale(1,1.0)" font-size="6.3" letter-spacing="0" class="t" text-anchor="end" font-family="Liberation Serif, Times New Roman, serif" font-weight="bold">110</text>
<text transform="translate(367.50,434.53) scale(1,1.0)" font-size="6.3" letter-spacing="0" class="t" text-anchor="end" font-family="Liberation Serif, Times New Roman, serif" font-weight="bold">120</text>
<text transform="translate(367.50,415.28) scale(1,1.0)" font-size="6.3" letter-spacing="0" class="t" text-anchor="end" font-family="Liberation Serif, Times New Roman, serif" font-weight="bold">130</text>
<text x="446.40" y="545.3000000000001" font-size="7.2" text-anchor="middle" font-family="Liberation Serif, Times New Roman, serif" font-weight="bold">Year</text>
<text transform="translate(357.5,470.95) rotate(-90)" font-size="7.2" text-anchor="middle" font-family="Liberation Serif, Times New Roman, serif" font-weight="bold">Prevalence</text>
<circle cx="463.60" cy="421.2" r="1.0" fill="#c62a38"/>
<line x1="457.70000000000005" y1="427.8" x2="469.50000000000006" y2="427.8" stroke="#86b81c" stroke-width="0.7"/>
<line x1="457.70000000000005" y1="435.0" x2="469.50000000000006" y2="435.0" stroke="#bcd86c" stroke-width="0.7" stroke-dasharray="1.4 1.4"/>
<text x="470.50" y="423.10" font-size="5.75" font-family="Liberation Serif, Times New Roman, serif" font-weight="bold">Prevalence vs. Year</text>
<text x="470.50" y="430.10" font-size="5.75" font-family="Liberation Serif, Times New Roman, serif" font-weight="bold">Power2-Exp2</text>
<text x="470.50" y="437.10" font-size="5.75" font-family="Liberation Serif, Times New Roman, serif" font-weight="bold">Pred bnds (95%)</text>
<text x="376.50" y="496.40" font-size="8.1" class="st" font-family="Liberation Serif, Times New Roman, serif" font-weight="bold">SSE: 6.532</text>
<text x="376.50" y="505.70" font-size="8.1" class="st" font-family="Liberation Serif, Times New Roman, serif" font-weight="bold">R-square: 0.9961</text>
<text x="376.50" y="515.00" font-size="8.1" class="st" font-family="Liberation Serif, Times New Roman, serif" font-weight="bold">Adjusted R-square: 0.9958</text>
<text x="376.50" y="524.30" font-size="8.1" class="st" font-family="Liberation Serif, Times New Roman, serif" font-weight="bold">RMSE: 0.6599</text>
<line x1="46.28" y1="159.1" x2="46.28" y2="378.0" stroke="#bcbcbc" stroke-width="0.7"/>
<line x1="69.76" y1="159.1" x2="69.76" y2="378.0" stroke="#bcbcbc" stroke-width="0.7"/>
<line x1="93.24" y1="159.1" x2="93.24" y2="378.0" stroke="#bcbcbc" stroke-width="0.7"/>
<line x1="116.72" y1="159.1" x2="116.72" y2="378.0" stroke="#bcbcbc" stroke-width="0.7"/>
<line x1="140.20" y1="159.1" x2="140.20" y2="378.0" stroke="#bcbcbc" stroke-width="0.7"/>
<line x1="163.68" y1="159.1" x2="163.68" y2="378.0" stroke="#bcbcbc" stroke-width="0.7"/>
<line x1="187.16" y1="159.1" x2="187.16" y2="378.0" stroke="#bcbcbc" stroke-width="0.7"/>
<line x1="210.64" y1="159.1" x2="210.64" y2="378.0" stroke="#bcbcbc" stroke-width="0.7"/>
<line x1="234.12" y1="159.1" x2="234.12" y2="378.0" stroke="#bcbcbc" stroke-width="0.7"/>
<line x1="22.8" y1="341.52" x2="257.6" y2="341.52" stroke="#bcbcbc" stroke-width="0.7"/>
<line x1="22.8" y1="305.03" x2="257.6" y2="305.03" stroke="#bcbcbc" stroke-width="0.7"/>
<line x1="22.8" y1="268.55" x2="257.6" y2="268.55" stroke="#bcbcbc" stroke-width="0.7"/>
<line x1="22.8" y1="232.07" x2="257.6" y2="232.07" stroke="#bcbcbc" stroke-width="0.7"/>
<line x1="22.8" y1="195.58" x2="257.6" y2="195.58" stroke="#bcbcbc" stroke-width="0.7"/>
<clipPath id="cm1"><rect x="22.8" y="159.1" width="234.8" height="218.9"/></clipPath>
<g clip-path="url(#cm1)" fill="none" stroke-width="1.35">
<path d="M22.80,212.64 L25.73,212.16 L28.67,211.73 L31.61,211.37 L34.54,211.08 L37.48,210.84 L40.41,210.67 L43.34,210.56 L46.28,210.52 L49.22,210.53 L52.15,210.61 L55.09,210.76 L58.02,210.96 L60.95,211.23 L63.89,211.56 L66.83,211.96 L69.76,212.41 L72.70,212.94 L75.63,213.52 L78.56,214.17 L81.50,214.88 L84.44,215.65 L87.37,216.48 L90.30,217.38 L93.24,218.34 L96.17,219.37 L99.11,220.45 L102.05,221.60 L104.98,222.82 L107.91,224.09 L110.85,225.43 L113.79,226.83 L116.72,228.30 L119.66,229.83 L122.59,231.42 L125.53,233.07 L128.46,234.79 L131.40,236.57 L134.33,238.41 L137.27,240.32 L140.20,242.29 L143.13,244.32 L146.07,246.41 L149.00,248.57 L151.94,250.79 L154.88,253.07 L157.81,255.42 L160.75,257.83 L163.68,260.30 L166.62,262.83 L169.55,265.43 L172.49,268.09 L175.42,270.82 L178.36,273.60 L181.29,276.45 L184.23,279.37 L187.16,282.34 L190.10,285.38 L193.03,288.48 L195.97,291.65 L198.90,294.87 L201.84,298.16 L204.77,301.52 L207.71,304.93 L210.64,308.41 L213.58,311.95 L216.51,315.56 L219.45,319.23 L222.38,322.96 L225.32,326.75 L228.25,330.61 L231.19,334.53 L234.12,338.51 L237.06,342.56 L239.99,346.67 L242.93,350.84 L245.86,355.07 L248.80,359.37 L251.73,363.73 L254.67,368.15 L257.60,372.64" stroke="#4fb3d4"/>
<path d="M22.80,213.59 L25.73,212.99 L28.67,212.46 L31.61,212.00 L34.54,211.61 L37.48,211.28 L40.41,211.02 L43.34,210.83 L46.28,210.71 L49.22,210.66 L52.15,210.67 L55.09,210.75 L58.02,210.90 L60.95,211.12 L63.89,211.40 L66.83,211.76 L69.76,212.18 L72.70,212.67 L75.63,213.23 L78.56,213.85 L81.50,214.54 L84.44,215.30 L87.37,216.13 L90.30,217.02 L93.24,217.98 L96.17,219.01 L99.11,220.11 L102.05,221.27 L104.98,222.49 L107.91,223.79 L110.85,225.15 L113.79,226.57 L116.72,228.06 L119.66,229.62 L122.59,231.24 L125.53,232.92 L128.46,234.67 L131.40,236.49 L134.33,238.36 L137.27,240.31 L140.20,242.31 L143.13,244.38 L146.07,246.51 L149.00,248.70 L151.94,250.95 L154.88,253.27 L157.81,255.65 L160.75,258.08 L163.68,260.58 L166.62,263.14 L169.55,265.76 L172.49,268.43 L175.42,271.17 L178.36,273.96 L181.29,276.81 L184.23,279.72 L187.16,282.69 L190.10,285.71 L193.03,288.79 L195.97,291.92 L198.90,295.11 L201.84,298.35 L204.77,301.65 L207.71,305.00 L210.64,308.40 L213.58,311.86 L216.51,315.36 L219.45,318.92 L222.38,322.53 L225.32,326.19 L228.25,329.90 L231.19,333.66 L234.12,337.46 L237.06,341.31 L239.99,345.21 L242.93,349.16 L245.86,353.15 L248.80,357.19 L251.73,361.27 L254.67,365.40 L257.60,369.56" stroke="#678e3a"/>
<path d="M22.80,218.62 L25.73,217.42 L28.67,216.32 L31.61,215.31 L34.54,214.39 L37.48,213.56 L40.41,212.82 L43.34,212.18 L46.28,211.63 L49.22,211.18 L52.15,210.83 L55.09,210.57 L58.02,210.41 L60.95,210.35 L63.89,210.39 L66.83,210.52 L69.76,210.75 L72.70,211.08 L75.63,211.50 L78.56,212.03 L81.50,212.64 L84.44,213.35 L87.37,214.16 L90.30,215.06 L93.24,216.05 L96.17,217.13 L99.11,218.29 L102.05,219.55 L104.98,220.89 L107.91,222.31 L110.85,223.82 L113.79,225.40 L116.72,227.07 L119.66,228.81 L122.59,230.62 L125.53,232.50 L128.46,234.46 L131.40,236.48 L134.33,238.57 L137.27,240.71 L140.20,242.92 L143.13,245.19 L146.07,247.51 L149.00,249.89 L151.94,252.31 L154.88,254.78 L157.81,257.30 L160.75,259.86 L163.68,262.46 L166.62,265.10 L169.55,267.78 L172.49,270.49 L175.42,273.23 L178.36,276.00 L181.29,278.79 L184.23,281.61 L187.16,284.45 L190.10,287.31 L193.03,290.19 L195.97,293.09 L198.90,296.00 L201.84,298.92 L204.77,301.85 L207.71,304.78 L210.64,307.73 L213.58,310.67 L216.51,313.61 L219.45,316.53 L222.38,319.44 L225.32,322.33 L228.25,325.21 L231.19,328.07 L234.12,330.91 L237.06,333.73 L239.99,336.53 L242.93,339.31 L245.86,342.07 L248.80,344.80 L251.73,347.50 L254.67,350.18 L257.60,352.83" stroke="#e6c832"/>
<path d="M22.80,220.97 L25.73,219.39 L28.67,217.94 L31.61,216.60 L34.54,215.39 L37.48,214.29 L40.41,213.32 L43.34,212.46 L46.28,211.73 L49.22,211.12 L52.15,210.63 L55.09,210.25 L58.02,210.00 L60.95,209.86 L63.89,209.84 L66.83,209.93 L69.76,210.13 L72.70,210.45 L75.63,210.87 L78.56,211.41 L81.50,212.05 L84.44,212.79 L87.37,213.63 L90.30,214.58 L93.24,215.62 L96.17,216.75 L99.11,217.98 L102.05,219.30 L104.98,220.70 L107.91,222.19 L110.85,223.76 L113.79,225.41 L116.72,227.13 L119.66,228.93 L122.59,230.80 L125.53,232.74 L128.46,234.74 L131.40,236.81 L134.33,238.93 L137.27,241.12 L140.20,243.36 L143.13,245.65 L146.07,247.99 L149.00,250.38 L151.94,252.81 L154.88,255.28 L157.81,257.80 L160.75,260.35 L163.68,262.93 L166.62,265.55 L169.55,268.20 L172.49,270.88 L175.42,273.58 L178.36,276.31 L181.29,279.06 L184.23,281.83 L187.16,284.62 L190.10,287.42 L193.03,290.24 L195.97,293.07 L198.90,295.91 L201.84,298.76 L204.77,301.62 L207.71,304.48 L210.64,307.35 L213.58,310.23 L216.51,313.13 L219.45,316.04 L222.38,318.97 L225.32,321.92 L228.25,324.87 L231.19,327.84 L234.12,330.82 L237.06,333.81 L239.99,336.80 L242.93,339.81 L245.86,342.82 L248.80,345.84 L251.73,348.86 L254.67,351.89 L257.60,354.92" stroke="#41709f"/>
<path d="M22.80,215.66 L25.73,214.82 L28.67,214.05 L31.61,213.37 L34.54,212.76 L37.48,212.23 L40.41,211.78 L43.34,211.40 L46.28,211.11 L49.22,210.90 L52.15,210.76 L55.09,210.71 L58.02,210.73 L60.95,210.83 L63.89,211.02 L66.83,211.28 L69.76,211.62 L72.70,212.04 L75.63,212.54 L78.56,213.12 L81.50,213.78 L84.44,214.51 L87.37,215.32 L90.30,216.21 L93.24,217.18 L96.17,218.22 L99.11,219.33 L102.05,220.53 L104.98,221.79 L107.91,223.13 L110.85,224.54 L113.79,226.02 L116.72,227.58 L119.66,229.20 L122.59,230.89 L125.53,232.66 L128.46,234.49 L131.40,236.38 L134.33,238.34 L137.27,240.37 L140.20,242.46 L143.13,244.61 L146.07,246.82 L149.00,249.09 L151.94,251.42 L154.88,253.81 L157.81,256.25 L160.75,258.75 L163.68,261.30 L166.62,263.90 L169.55,266.56 L172.49,269.26 L175.42,272.01 L178.36,274.81 L181.29,277.65 L184.23,280.54 L187.16,283.47 L190.10,286.44 L193.03,289.45 L195.97,292.50 L198.90,295.59 L201.84,298.71 L204.77,301.86 L207.71,305.05 L210.64,308.27 L213.58,311.50 L216.51,314.76 L219.45,318.02 L222.38,321.29 L225.32,324.58 L228.25,327.87 L231.19,331.16 L234.12,334.46 L237.06,337.77 L239.99,341.07 L242.93,344.38 L245.86,347.68 L248.80,350.98 L251.73,354.27 L254.67,357.56 L257.60,360.85" stroke="#b84a36"/>
<path d="M22.80,221.61 L25.73,219.88 L28.67,218.29 L31.61,216.85 L34.54,215.53 L37.48,214.36 L40.41,213.32 L43.34,212.42 L46.28,211.65 L49.22,211.01 L52.15,210.50 L55.09,210.12 L58.02,209.86 L60.95,209.72 L63.89,209.70 L66.83,209.81 L69.76,210.03 L72.70,210.36 L75.63,210.80 L78.56,211.35 L81.50,212.01 L84.44,212.77 L87.37,213.64 L90.30,214.60 L93.24,215.66 L96.17,216.81 L99.11,218.05 L102.05,219.37 L104.98,220.79 L107.91,222.28 L110.85,223.86 L113.79,225.51 L116.72,227.24 L119.66,229.03 L122.59,230.90 L125.53,232.84 L128.46,234.83 L131.40,236.89 L134.33,239.01 L137.27,241.19 L140.20,243.41 L143.13,245.69 L146.07,248.02 L149.00,250.40 L151.94,252.82 L154.88,255.28 L157.81,257.78 L160.75,260.32 L163.68,262.90 L166.62,265.51 L169.55,268.15 L172.49,270.82 L175.42,273.51 L178.36,276.23 L181.29,278.98 L184.23,281.75 L187.16,284.53 L190.10,287.34 L193.03,290.16 L195.97,293.00 L198.90,295.84 L201.84,298.70 L204.77,301.57 L207.71,304.45 L210.64,307.34 L213.58,310.22 L216.51,313.08 L219.45,315.92 L222.38,318.73 L225.32,321.52 L228.25,324.29 L231.19,327.03 L234.12,329.75 L237.06,332.43 L239.99,335.09 L242.93,337.71 L245.86,340.31 L248.80,342.87 L251.73,345.40 L254.67,347.90 L257.60,350.36" stroke="#7a9232"/>
<path d="M22.80,221.12 L34.54,214.55 L46.28,211.45 L58.02,210.36 L69.76,210.61 L81.50,212.37 L93.24,215.65 L104.98,220.39 L116.72,226.05 L128.46,233.16 L140.20,241.92 L151.94,252.50 L163.68,262.71 L175.42,274.02 L187.16,286.06 L198.90,297.74 L210.64,308.32 L222.38,317.44 L234.12,324.37 L245.86,329.11 L257.60,330.94" stroke="#2f6690" stroke-width="1.1"/>
</g>
<g clip-path="url(#cm1)">
<circle cx="34.54" cy="213.82" r="1.65" fill="#dc3640"/>
<circle cx="46.28" cy="213.82" r="1.65" fill="#dc3640"/>
<circle cx="58.02" cy="210.18" r="1.65" fill="#dc3640"/>
<circle cx="69.76" cy="210.18" r="1.65" fill="#dc3640"/>
<circle cx="81.50" cy="210.18" r="1.65" fill="#dc3640"/>
<circle cx="93.24" cy="217.47" r="1.65" fill="#dc3640"/>
<circle cx="104.98" cy="221.12" r="1.65" fill="#dc3640"/>
<circle cx="116.72" cy="228.42" r="1.65" fill="#dc3640"/>
<circle cx="128.46" cy="232.07" r="1.65" fill="#dc3640"/>
<circle cx="140.20" cy="239.36" r="1.65" fill="#dc3640"/>
<circle cx="151.94" cy="257.61" r="1.65" fill="#dc3640"/>
<circle cx="163.68" cy="261.25" r="1.65" fill="#dc3640"/>
<circle cx="175.42" cy="272.20" r="1.65" fill="#dc3640"/>
<circle cx="187.16" cy="286.79" r="1.65" fill="#dc3640"/>
<circle cx="198.90" cy="297.74" r="1.65" fill="#dc3640"/>
<circle cx="210.64" cy="308.68" r="1.65" fill="#dc3640"/>
<circle cx="222.38" cy="315.98" r="1.65" fill="#dc3640"/>
</g>
<rect x="22.8" y="159.1" width="234.80" height="218.90" fill="none" stroke="#6c6c6c" stroke-width="0.9"/>
<path d="M22.80,378.0v-2.0M22.80,159.1v2.0M46.28,378.0v-2.0M46.28,159.1v2.0M69.76,378.0v-2.0M69.76,159.1v2.0M93.24,378.0v-2.0M93.24,159.1v2.0M116.72,378.0v-2.0M116.72,159.1v2.0M140.20,378.0v-2.0M140.20,159.1v2.0M163.68,378.0v-2.0M163.68,159.1v2.0M187.16,378.0v-2.0M187.16,159.1v2.0M210.64,378.0v-2.0M210.64,159.1v2.0M234.12,378.0v-2.0M234.12,159.1v2.0M257.60,378.0v-2.0M257.60,159.1v2.0M22.8,378.00h2.0M257.6,378.00h-2.0M22.8,341.52h2.0M257.6,341.52h-2.0M22.8,305.03h2.0M257.6,305.03h-2.0M22.8,268.55h2.0M257.6,268.55h-2.0M22.8,232.07h2.0M257.6,232.07h-2.0M22.8,195.58h2.0M257.6,195.58h-2.0M22.8,159.10h2.0M257.6,159.10h-2.0" stroke="#6c6c6c" stroke-width="0.6" fill="none"/>
<text transform="translate(22.80,386.70) scale(1,1.0)" font-size="7.0" letter-spacing="-0.4" class="tk" text-anchor="middle" font-family="Liberation Serif, Times New Roman, serif" font-weight="bold">1999</text>
<text transform="translate(46.28,386.70) scale(1,1.0)" font-size="7.0" letter-spacing="-0.4" class="tk" text-anchor="middle" font-family="Liberation Serif, Times New Roman, serif" font-weight="bold">2001</text>
<text transform="translate(69.76,386.70) scale(1,1.0)" font-size="7.0" letter-spacing="-0.4" class="tk" text-anchor="middle" font-family="Liberation Serif, Times New Roman, serif" font-weight="bold">2003</text>
<text transform="translate(93.24,386.70) scale(1,1.0)" font-size="7.0" letter-spacing="-0.4" class="tk" text-anchor="middle" font-family="Liberation Serif, Times New Roman, serif" font-weight="bold">2005</text>
<text transform="translate(116.72,386.70) scale(1,1.0)" font-size="7.0" letter-spacing="-0.4" class="tk" text-anchor="middle" font-family="Liberation Serif, Times New Roman, serif" font-weight="bold">2007</text>
<text transform="translate(140.20,386.70) scale(1,1.0)" font-size="7.0" letter-spacing="-0.4" class="tk" text-anchor="middle" font-family="Liberation Serif, Times New Roman, serif" font-weight="bold">2009</text>
<text transform="translate(163.68,386.70) scale(1,1.0)" font-size="7.0" letter-spacing="-0.4" class="tk" text-anchor="middle" font-family="Liberation Serif, Times New Roman, serif" font-weight="bold">2011</text>
<text transform="translate(187.16,386.70) scale(1,1.0)" font-size="7.0" letter-spacing="-0.4" class="tk" text-anchor="middle" font-family="Liberation Serif, Times New Roman, serif" font-weight="bold">2013</text>
<text transform="translate(210.64,386.70) scale(1,1.0)" font-size="7.0" letter-spacing="-0.4" class="tk" text-anchor="middle" font-family="Liberation Serif, Times New Roman, serif" font-weight="bold">2015</text>
<text transform="translate(234.12,386.70) scale(1,1.0)" font-size="7.0" letter-spacing="-0.4" class="tk" text-anchor="middle" font-family="Liberation Serif, Times New Roman, serif" font-weight="bold">2017</text>
<text transform="translate(257.60,386.70) scale(1,1.0)" font-size="7.0" letter-spacing="-0.4" class="tk" text-anchor="middle" font-family="Liberation Serif, Times New Roman, serif" font-weight="bold">2019</text>
<text transform="translate(20.20,380.31) scale(1,1.0)" font-size="7.0" letter-spacing="-0.4" class="tk" text-anchor="end" font-family="Liberation Serif, Times New Roman, serif" font-weight="bold">70</text>
<text transform="translate(20.20,343.83) scale(1,1.0)" font-size="7.0" letter-spacing="-0.4" class="tk" text-anchor="end" font-family="Liberation Serif, Times New Roman, serif" font-weight="bold">80</text>
<text transform="translate(20.20,307.34) scale(1,1.0)" font-size="7.0" letter-spacing="-0.4" class="tk" text-anchor="end" font-family="Liberation Serif, Times New Roman, serif" font-weight="bold">90</text>
<text transform="translate(20.20,270.86) scale(1,1.0)" font-size="7.0" letter-spacing="-0.4" class="tk" text-anchor="end" font-family="Liberation Serif, Times New Roman, serif" font-weight="bold">100</text>
<text transform="translate(20.20,234.38) scale(1,1.0)" font-size="7.0" letter-spacing="-0.4" class="tk" text-anchor="end" font-family="Liberation Serif, Times New Roman, serif" font-weight="bold">110</text>
<text transform="translate(20.20,197.89) scale(1,1.0)" font-size="7.0" letter-spacing="-0.4" class="tk" text-anchor="end" font-family="Liberation Serif, Times New Roman, serif" font-weight="bold">120</text>
<text transform="translate(20.20,161.41) scale(1,1.0)" font-size="7.0" letter-spacing="-0.4" class="tk" text-anchor="end" font-family="Liberation Serif, Times New Roman, serif" font-weight="bold">130</text>
<text x="140.20" y="394.9" font-size="7.4" text-anchor="middle" font-family="Liberation Serif, Times New Roman, serif" font-weight="bold">Year</text>
<text transform="translate(8.2,268.55) rotate(-90)" font-size="7.1" text-anchor="middle" font-family="Liberation Serif, Times New Roman, serif" font-weight="bold">Prevalence</text>
<line x1="25.3" y1="302.6" x2="37.7" y2="302.6" stroke="#4fb3d4" stroke-width="0.75"/>
<line x1="25.3" y1="312.6" x2="37.7" y2="312.6" stroke="#678e3a" stroke-width="0.75"/>
<line x1="25.3" y1="322.6" x2="37.7" y2="322.6" stroke="#e6c832" stroke-width="0.75"/>
<line x1="25.3" y1="332.3" x2="37.7" y2="332.3" stroke="#41709f" stroke-width="0.75"/>
<line x1="25.3" y1="344.6" x2="37.7" y2="344.6" stroke="#b84a36" stroke-width="0.75"/>
<line x1="25.3" y1="355.8" x2="37.7" y2="355.8" stroke="#a0b030" stroke-width="0.75"/>
<line x1="25.3" y1="364.9" x2="37.7" y2="364.9" stroke="#3f76ac" stroke-width="0.75"/>
<circle cx="32.3" cy="374.2" r="1.6" fill="#dc3640"/>
<text x="39.0" y="304.50" font-size="5.75" font-family="Liberation Serif, Times New Roman, serif" font-weight="bold" xml:space="preserve">Ploy2  <tspan font-style="italic">f</tspan><tspan font-size="4" dy="1.4">1</tspan><tspan dy="-1.4">(</tspan><tspan font-style="italic">x</tspan>) = -0.138*<tspan font-style="italic">x</tspan><tspan font-size="4" dy="-2">2</tspan><tspan dy="2">+0.5679*</tspan><tspan font-style="italic">x</tspan>+115.3</text>
<text x="39.0" y="314.50" font-size="5.75" font-family="Liberation Serif, Times New Roman, serif" font-weight="bold" xml:space="preserve">Sin1  <tspan font-style="italic">f</tspan><tspan font-size="4" dy="1.4">2</tspan><tspan dy="-1.4">(</tspan><tspan font-style="italic">x</tspan>) = 115.9*sin(0.05074*<tspan font-style="italic">x</tspan>+1.453)</text>
<text x="39.0" y="324.50" font-size="5.65" font-family="Liberation Serif, Times New Roman, serif" font-weight="bold" xml:space="preserve">Reci-Ploy2  <tspan font-style="italic">f</tspan><tspan font-size="4" dy="1.4">3</tspan><tspan dy="-1.4">(</tspan><tspan font-style="italic">x</tspan>) = 1/(1.595e-05*<tspan font-style="italic">x</tspan><tspan font-size="4" dy="-2">2</tspan><tspan dy="2">-0.0001047*</tspan><tspan font-style="italic">x</tspan>+0.008796)</text>
<text x="39.0" y="334.20" font-size="5.68" font-family="Liberation Serif, Times New Roman, serif" font-weight="bold" xml:space="preserve">Reci-Exp2  <tspan font-style="italic">f</tspan><tspan font-size="4" dy="1.4">4</tspan><tspan dy="-1.4">(</tspan><tspan font-style="italic">x</tspan>) = 1/(0.003907*exp(0.09415*<tspan font-style="italic">x</tspan>)+0.004939*exp(0.04608*<tspan font-style="italic">x</tspan>))</text>
<text x="39.0" y="346.50" font-size="5.8" font-family="Liberation Serif, Times New Roman, serif" font-weight="bold" xml:space="preserve">Power2-Ploy2  <tspan font-style="italic">f</tspan><tspan font-size="4" dy="1.4">5</tspan><tspan dy="-1.4">(</tspan><tspan font-style="italic">x</tspan>) = 2<tspan font-size="4.45" dy="-2.2">(-0.002172*x²+0.01216*x+6.839)</tspan><tspan dy="2.2"> </tspan></text>
<text x="39.0" y="357.70" font-size="5.8" font-family="Liberation Serif, Times New Roman, serif" font-weight="bold" xml:space="preserve">Power2-Exp2  <tspan font-style="italic">f</tspan><tspan font-size="4" dy="1.4">6</tspan><tspan dy="-1.4">(</tspan><tspan font-style="italic">x</tspan>) = 2<tspan font-size="4.27" dy="-2.2">(8.9*exp(-0.01157*x)-2.087*exp(-0.07537*x))</tspan><tspan dy="2.2"> </tspan></text>
<text x="39.0" y="366.80" font-size="5.76" font-family="Liberation Serif, Times New Roman, serif" font-weight="bold" xml:space="preserve">Combined Model  <tspan font-style="italic">f</tspan>(<tspan font-style="italic">x</tspan>) = 4.3416*<tspan font-style="italic">f</tspan><tspan font-size="4" dy="1.4">1</tspan><tspan dy="-1.4">-11.9698*</tspan><tspan font-style="italic">f</tspan><tspan font-size="4" dy="1.4">2</tspan><tspan dy="-1.4">+8.9289*</tspan><tspan font-style="italic">f</tspan><tspan font-size="4" dy="1.4">3</tspan><tspan dy="-1.4">-20.8597*</tspan><tspan font-style="italic">f</tspan><tspan font-size="4" dy="1.4">4</tspan><tspan dy="-1.4">+8.5385*</tspan><tspan font-style="italic">f</tspan><tspan font-size="4" dy="1.4">5</tspan><tspan dy="-1.4">+12.0687*</tspan><tspan font-style="italic">f</tspan><tspan font-size="4" dy="1.4">6</tspan><tspan dy="-1.4"></tspan></text>
<text x="39.0" y="376.10" font-size="5.8" font-family="Liberation Serif, Times New Roman, serif" font-weight="bold" xml:space="preserve">Real Data</text>
<line x1="344.22" y1="159.3" x2="344.22" y2="377.4" stroke="#bcbcbc" stroke-width="0.7"/>
<line x1="388.84" y1="159.3" x2="388.84" y2="377.4" stroke="#bcbcbc" stroke-width="0.7"/>
<line x1="433.46" y1="159.3" x2="433.46" y2="377.4" stroke="#bcbcbc" stroke-width="0.7"/>
<line x1="478.08" y1="159.3" x2="478.08" y2="377.4" stroke="#bcbcbc" stroke-width="0.7"/>
<line x1="299.6" y1="350.14" x2="522.7" y2="350.14" stroke="#bcbcbc" stroke-width="0.7"/>
<line x1="299.6" y1="322.88" x2="522.7" y2="322.88" stroke="#bcbcbc" stroke-width="0.7"/>
<line x1="299.6" y1="295.61" x2="522.7" y2="295.61" stroke="#bcbcbc" stroke-width="0.7"/>
<line x1="299.6" y1="268.35" x2="522.7" y2="268.35" stroke="#bcbcbc" stroke-width="0.7"/>
<line x1="299.6" y1="241.09" x2="522.7" y2="241.09" stroke="#bcbcbc" stroke-width="0.7"/>
<line x1="299.6" y1="213.82" x2="522.7" y2="213.82" stroke="#bcbcbc" stroke-width="0.7"/>
<line x1="299.6" y1="186.56" x2="522.7" y2="186.56" stroke="#bcbcbc" stroke-width="0.7"/>
<clipPath id="cm2"><rect x="299.6" y="159.3" width="223.10000000000002" height="218.09999999999997"/></clipPath>
<g clip-path="url(#cm2)" fill="none">
<path d="M299.60,189.29 L310.75,179.47 L321.91,174.84 L333.07,172.66 L344.22,173.04 L355.38,175.66 L366.53,180.84 L377.69,188.20 L388.84,196.65 L400.00,207.28 L411.15,220.37 L422.31,236.18 L433.46,251.45 L444.62,268.35 L455.77,286.34 L466.93,303.79 L478.08,319.60 L489.24,333.23 L500.39,344.14 L511.55,352.32 L522.70,356.68" stroke="#7d9fbc" stroke-width="0.7" stroke-dasharray="2.2 1.7"/>
<path d="M299.60,205.65 L310.75,195.83 L321.91,191.20 L333.07,189.56 L344.22,189.94 L355.38,192.56 L366.53,197.47 L377.69,204.56 L388.84,213.01 L400.00,223.64 L411.15,236.73 L422.31,252.54 L433.46,267.80 L444.62,284.71 L455.77,302.70 L466.93,320.15 L478.08,335.96 L489.24,349.59 L500.39,359.68 L511.55,366.50 L522.70,368.68" stroke="#7d9fbc" stroke-width="0.7" stroke-dasharray="2.2 1.7"/>
</g><g clip-path="url(#cm2)">
<circle cx="310.75" cy="186.56" r="1.45" fill="#c62a38"/>
<circle cx="321.91" cy="186.56" r="1.45" fill="#c62a38"/>
<circle cx="333.07" cy="181.11" r="1.45" fill="#c62a38"/>
<circle cx="344.22" cy="181.11" r="1.45" fill="#c62a38"/>
<circle cx="355.38" cy="181.11" r="1.45" fill="#c62a38"/>
<circle cx="366.53" cy="192.02" r="1.45" fill="#c62a38"/>
<circle cx="377.69" cy="197.47" r="1.45" fill="#c62a38"/>
<circle cx="388.84" cy="208.37" r="1.45" fill="#c62a38"/>
<circle cx="400.00" cy="213.82" r="1.45" fill="#c62a38"/>
<circle cx="411.15" cy="224.73" r="1.45" fill="#c62a38"/>
<circle cx="422.31" cy="251.99" r="1.45" fill="#c62a38"/>
<circle cx="433.46" cy="257.44" r="1.45" fill="#c62a38"/>
<circle cx="444.62" cy="273.80" r="1.45" fill="#c62a38"/>
<circle cx="455.77" cy="295.61" r="1.45" fill="#c62a38"/>
<circle cx="466.93" cy="311.97" r="1.45" fill="#c62a38"/>
<circle cx="478.08" cy="328.33" r="1.45" fill="#c62a38"/>
<circle cx="489.24" cy="339.23" r="1.45" fill="#c62a38"/>
</g><g clip-path="url(#cm2)" fill="none">
<path d="M299.60,197.47 L310.75,187.65 L321.91,183.02 L333.07,181.38 L344.22,181.76 L355.38,184.38 L366.53,189.29 L377.69,196.38 L388.84,204.83 L400.00,215.46 L411.15,228.55 L422.31,244.36 L433.46,259.63 L444.62,276.53 L455.77,294.52 L466.93,311.97 L478.08,327.78 L489.24,341.41 L500.39,351.77 L511.55,358.86 L522.70,361.59" stroke="#3f7496" stroke-width="1.35"/>
</g>
<rect x="299.6" y="159.3" width="223.10" height="218.10" fill="none" stroke="#6c6c6c" stroke-width="0.9"/>
<path d="M299.60,377.4v-2.0M299.60,159.3v2.0M344.22,377.4v-2.0M344.22,159.3v2.0M388.84,377.4v-2.0M388.84,159.3v2.0M433.46,377.4v-2.0M433.46,159.3v2.0M478.08,377.4v-2.0M478.08,159.3v2.0M522.70,377.4v-2.0M522.70,159.3v2.0M299.6,377.40h2.0M522.7,377.40h-2.0M299.6,350.14h2.0M522.7,350.14h-2.0M299.6,322.88h2.0M522.7,322.88h-2.0M299.6,295.61h2.0M522.7,295.61h-2.0M299.6,268.35h2.0M522.7,268.35h-2.0M299.6,241.09h2.0M522.7,241.09h-2.0M299.6,213.82h2.0M522.7,213.82h-2.0M299.6,186.56h2.0M522.7,186.56h-2.0M299.6,159.30h2.0M522.7,159.30h-2.0" stroke="#6c6c6c" stroke-width="0.6" fill="none"/>
<text transform="translate(299.60,385.80) scale(1,1.0)" font-size="6.0" letter-spacing="0" class="t" text-anchor="middle" font-family="Liberation Serif, Times New Roman, serif" font-weight="bold">1999</text>
<text transform="translate(344.22,385.80) scale(1,1.0)" font-size="6.0" letter-spacing="0" class="t" text-anchor="middle" font-family="Liberation Serif, Times New Roman, serif" font-weight="bold">2003</text>
<text transform="translate(388.84,385.80) scale(1,1.0)" font-size="6.0" letter-spacing="0" class="t" text-anchor="middle" font-family="Liberation Serif, Times New Roman, serif" font-weight="bold">2007</text>
<text transform="translate(433.46,385.80) scale(1,1.0)" font-size="6.0" letter-spacing="0" class="t" text-anchor="middle" font-family="Liberation Serif, Times New Roman, serif" font-weight="bold">2011</text>
<text transform="translate(478.08,385.80) scale(1,1.0)" font-size="6.0" letter-spacing="0" class="t" text-anchor="middle" font-family="Liberation Serif, Times New Roman, serif" font-weight="bold">2015</text>
<text transform="translate(522.70,385.80) scale(1,1.0)" font-size="6.0" letter-spacing="0" class="t" text-anchor="middle" font-family="Liberation Serif, Times New Roman, serif" font-weight="bold">2019</text>
<text transform="translate(297.00,379.38) scale(1,1.0)" font-size="6.0" letter-spacing="0" class="t" text-anchor="end" font-family="Liberation Serif, Times New Roman, serif" font-weight="bold">80</text>
<text transform="translate(297.00,352.12) scale(1,1.0)" font-size="6.0" letter-spacing="0" class="t" text-anchor="end" font-family="Liberation Serif, Times New Roman, serif" font-weight="bold">85</text>
<text transform="translate(297.00,324.86) scale(1,1.0)" font-size="6.0" letter-spacing="0" class="t" text-anchor="end" font-family="Liberation Serif, Times New Roman, serif" font-weight="bold">90</text>
<text transform="translate(297.00,297.59) scale(1,1.0)" font-size="6.0" letter-spacing="0" class="t" text-anchor="end" font-family="Liberation Serif, Times New Roman, serif" font-weight="bold">95</text>
<text transform="translate(297.00,270.33) scale(1,1.0)" font-size="6.0" letter-spacing="0" class="t" text-anchor="end" font-family="Liberation Serif, Times New Roman, serif" font-weight="bold">100</text>
<text transform="translate(297.00,243.07) scale(1,1.0)" font-size="6.0" letter-spacing="0" class="t" text-anchor="end" font-family="Liberation Serif, Times New Roman, serif" font-weight="bold">105</text>
<text transform="translate(297.00,215.80) scale(1,1.0)" font-size="6.0" letter-spacing="0" class="t" text-anchor="end" font-family="Liberation Serif, Times New Roman, serif" font-weight="bold">110</text>
<text transform="translate(297.00,188.54) scale(1,1.0)" font-size="6.0" letter-spacing="0" class="t" text-anchor="end" font-family="Liberation Serif, Times New Roman, serif" font-weight="bold">115</text>
<text transform="translate(297.00,161.28) scale(1,1.0)" font-size="6.0" letter-spacing="0" class="t" text-anchor="end" font-family="Liberation Serif, Times New Roman, serif" font-weight="bold">120</text>
<text x="411.15" y="393.59999999999997" font-size="7.1" text-anchor="middle" font-family="Liberation Serif, Times New Roman, serif" font-weight="bold">Year</text>
<text transform="translate(285.3,268.35) rotate(-90)" font-size="7.1" text-anchor="middle" font-family="Liberation Serif, Times New Roman, serif" font-weight="bold">Prevalence</text>
<circle cx="461.4" cy="167.0" r="1.3" fill="#c62a38"/>
<line x1="455.0" y1="174.2" x2="467.0" y2="174.2" stroke="#3b7192" stroke-width="1.0"/>
<line x1="455.0" y1="181.0" x2="467.0" y2="181.0" stroke="#7d9fbc" stroke-width="0.7" stroke-dasharray="2.2 1.7"/>
<line x1="455.0" y1="187.4" x2="467.0" y2="187.4" stroke="#8fb0cf" stroke-width="0.7" stroke-dasharray="2 1.6"/>
<text x="468.60" y="168.90" font-size="5.93" font-family="Liberation Serif, Times New Roman, serif" font-weight="bold">Prevalence vs. Year</text>
<text x="468.60" y="176.00" font-size="5.93" font-family="Liberation Serif, Times New Roman, serif" font-weight="bold">Combined Model</text>
<text x="468.60" y="183.10" font-size="5.93" font-family="Liberation Serif, Times New Roman, serif" font-weight="bold">Pred bnds (95%)</text>
<text x="305.6" y="347.70" font-size="8.3" class="st" font-family="Liberation Serif, Times New Roman, serif" font-weight="bold">SSE: 5.35</text>
<text x="305.6" y="356.70" font-size="8.3" class="st" font-family="Liberation Serif, Times New Roman, serif" font-weight="bold">R-square: 0.9968</text>
<text x="305.6" y="365.70" font-size="8.3" class="st" font-family="Liberation Serif, Times New Roman, serif" font-weight="bold">Adjusted R-square: 0.9966</text>
<text x="305.6" y="374.70" font-size="8.3" class="st" font-family="Liberation Serif, Times New Roman, serif" font-weight="bold">RMSE: 0.5972</text>
</g></svg>
</body></html>
